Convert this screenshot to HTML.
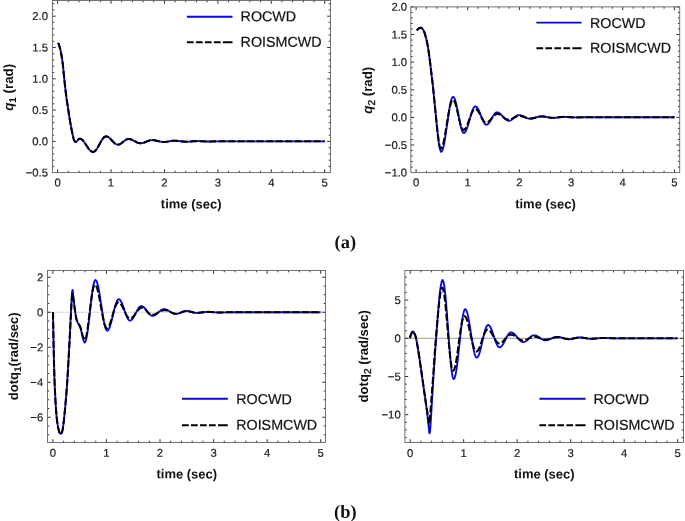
<!DOCTYPE html>
<html><head><meta charset="utf-8"><title>fig</title>
<style>html,body{margin:0;padding:0;background:#fff;}svg{display:block;will-change:transform;}text{font-family:"Liberation Sans",sans-serif;fill:#1e1e1e;text-rendering:geometricPrecision;}.tk{font-size:11.3px;fill:#1c1c1c;stroke:#1c1c1c;stroke-width:0.2px;}.lg{font-size:14.3px;fill:#111;stroke:#111;stroke-width:0.2px;}.ax{font-size:13px;font-weight:bold;fill:#111;}.ay{font-size:13.3px;}.cap{font-family:"Liberation Serif",serif;font-weight:bold;font-size:18.4px;fill:#111;}</style></head><body>
<svg width="685" height="521" viewBox="0 0 685 521">
<rect width="685" height="521" fill="#fff"/>
<path d="M58.2 42.9 L58.28 43.12 L58.39 43.41 L58.52 43.74 L58.66 44.12 L58.82 44.54 L58.98 45 L59.14 45.49 L59.3 46 L59.46 46.52 L59.62 47.03 L59.78 47.56 L59.95 48.14 L60.13 48.78 L60.31 49.5 L60.5 50.34 L60.7 51.3 L60.91 52.38 L61.14 53.56 L61.38 54.82 L61.63 56.18 L61.87 57.64 L62.12 59.19 L62.36 60.85 L62.6 62.6 L62.83 64.52 L63.06 66.62 L63.29 68.86 L63.51 71.18 L63.74 73.53 L63.96 75.85 L64.18 78.09 L64.4 80.2 L64.62 82.2 L64.83 84.14 L65.04 86.03 L65.24 87.89 L65.45 89.7 L65.66 91.49 L65.88 93.26 L66.1 95 L66.33 96.71 L66.56 98.37 L66.79 99.99 L67.03 101.59 L67.26 103.17 L67.51 104.76 L67.75 106.37 L68 108 L68.25 109.67 L68.51 111.36 L68.77 113.07 L69.03 114.79 L69.3 116.49 L69.56 118.17 L69.83 119.81 L70.1 121.4 L70.37 122.97 L70.66 124.54 L70.94 126.1 L71.23 127.62 L71.51 129.1 L71.79 130.49 L72.05 131.8 L72.3 133 L72.53 134.09 L72.74 135.1 L72.94 136.02 L73.14 136.87 L73.33 137.65 L73.51 138.36 L73.7 139.01 L73.9 139.6 L74.11 140.13 L74.34 140.57 L74.57 140.95 L74.8 141.26 L75.02 141.53 L75.21 141.75 L75.38 141.94 L75.5 142.1 L76.03 141.97 L76.55 141.6 L77.08 141.05 L77.6 140.4 L78.12 139.75 L78.65 139.2 L79.17 138.83 L79.7 138.7 L80.21 138.75 L80.72 138.89 L81.23 139.13 L81.75 139.46 L82.26 139.87 L82.77 140.36 L83.28 140.92 L83.79 141.55 L84.3 142.23 L84.82 142.96 L85.33 143.72 L85.84 144.5 L86.35 145.3 L86.86 146.1 L87.37 146.88 L87.88 147.64 L88.4 148.37 L88.91 149.05 L89.42 149.68 L89.93 150.24 L90.44 150.73 L90.95 151.14 L91.47 151.47 L91.98 151.71 L92.49 151.85 L93 151.9 L93.5 151.84 L94.01 151.67 L94.51 151.4 L95.02 151.01 L95.52 150.53 L96.02 149.95 L96.53 149.29 L97.03 148.55 L97.53 147.75 L98.04 146.9 L98.54 146 L99.05 145.08 L99.55 144.15 L100.05 143.22 L100.56 142.3 L101.06 141.4 L101.57 140.55 L102.07 139.75 L102.57 139.01 L103.08 138.35 L103.58 137.77 L104.08 137.29 L104.59 136.9 L105.09 136.63 L105.6 136.46 L106.1 136.4 L106.61 136.44 L107.12 136.55 L107.63 136.74 L108.13 137 L108.64 137.32 L109.15 137.7 L109.66 138.14 L110.17 138.61 L110.68 139.13 L111.19 139.67 L111.7 140.22 L112.2 140.78 L112.71 141.33 L113.22 141.87 L113.73 142.39 L114.24 142.86 L114.75 143.3 L115.26 143.68 L115.77 144 L116.27 144.26 L116.78 144.45 L117.29 144.56 L117.8 144.6 L118.31 144.57 L118.82 144.48 L119.33 144.32 L119.84 144.11 L120.35 143.85 L120.86 143.55 L121.37 143.2 L121.88 142.82 L122.39 142.42 L122.9 142.01 L123.4 141.59 L123.91 141.18 L124.42 140.78 L124.93 140.4 L125.44 140.05 L125.95 139.75 L126.46 139.49 L126.97 139.28 L127.48 139.12 L127.99 139.03 L128.5 139 L129.01 139.02 L129.52 139.07 L130.03 139.16 L130.53 139.28 L131.04 139.44 L131.55 139.62 L132.06 139.83 L132.57 140.06 L133.07 140.31 L133.58 140.58 L134.09 140.85 L134.6 141.12 L135.11 141.4 L135.62 141.67 L136.12 141.94 L136.63 142.19 L137.14 142.42 L137.65 142.63 L138.16 142.81 L138.67 142.97 L139.17 143.09 L139.68 143.18 L140.19 143.23 L140.7 143.25 L141.21 143.23 L141.73 143.19 L142.24 143.11 L142.75 143 L143.27 142.87 L143.78 142.71 L144.3 142.53 L144.81 142.33 L145.32 142.12 L145.84 141.9 L146.35 141.68 L146.86 141.45 L147.38 141.23 L147.89 141.02 L148.4 140.82 L148.92 140.64 L149.43 140.48 L149.95 140.35 L150.46 140.24 L150.97 140.16 L151.49 140.12 L152 140.1 L152.52 140.11 L153.03 140.14 L153.55 140.18 L154.07 140.24 L154.59 140.31 L155.1 140.4 L155.62 140.5 L156.14 140.61 L156.66 140.73 L157.17 140.86 L157.69 140.99 L158.21 141.11 L158.73 141.24 L159.24 141.37 L159.76 141.49 L160.28 141.6 L160.8 141.7 L161.31 141.79 L161.83 141.86 L162.35 141.92 L162.87 141.96 L163.38 141.99 L163.9 142 L164.41 141.99 L164.91 141.97 L165.41 141.93 L165.92 141.88 L166.43 141.81 L166.93 141.73 L167.44 141.65 L167.94 141.55 L168.44 141.45 L168.95 141.35 L169.46 141.25 L169.96 141.15 L170.47 141.05 L170.97 140.97 L171.47 140.89 L171.98 140.82 L172.49 140.77 L172.99 140.73 L173.5 140.71 L174 140.7 L174.5 140.7 L175 140.72 L175.5 140.74 L176 140.76 L176.5 140.8 L177 140.84 L177.5 140.88 L178 140.93 L178.5 140.99 L179 141.05 L179.5 141.11 L180 141.17 L180.5 141.23 L181 141.29 L181.5 141.35 L182 141.41 L182.5 141.47 L183 141.52 L183.5 141.56 L184 141.6 L184.5 141.64 L185 141.66 L185.5 141.68 L186 141.7 L186.5 141.7 L187 141.7 L187.5 141.69 L188 141.67 L188.5 141.65 L189 141.62 L189.5 141.59 L190 141.55 L190.5 141.51 L191 141.47 L191.5 141.42 L192 141.38 L192.5 141.33 L193 141.29 L193.5 141.25 L194 141.21 L194.5 141.18 L195 141.15 L195.5 141.13 L196 141.11 L196.5 141.1 L197 141.1 L197.5 141.1 L198 141.11 L198.5 141.12 L199 141.13 L199.5 141.15 L200 141.17 L200.5 141.19 L201 141.22 L201.5 141.24 L202 141.27 L202.5 141.3 L203 141.33 L203.5 141.36 L204 141.38 L204.5 141.41 L205 141.43 L205.5 141.45 L206 141.47 L206.5 141.48 L207 141.49 L207.5 141.5 L208 141.5 L208.5 141.5 L209 141.5 L209.5 141.49 L210 141.49 L210.5 141.48 L211 141.47 L211.5 141.46 L212 141.45 L212.5 141.44 L213 141.43 L213.5 141.41 L214 141.4 L214.5 141.39 L215 141.37 L215.5 141.36 L216 141.35 L216.5 141.34 L217 141.33 L217.5 141.32 L218 141.31 L218.5 141.31 L219 141.3 L219.5 141.3 L220 141.3 L220.5 141.3 L221 141.3 L221.5 141.3 L222 141.3 L222.5 141.3 L223.01 141.3 L223.51 141.3 L224.01 141.3 L224.51 141.3 L225.01 141.3 L225.51 141.3 L226.01 141.3 L226.51 141.3 L227.01 141.3 L227.51 141.3 L228.02 141.3 L228.52 141.3 L229.02 141.3 L229.52 141.3 L230.02 141.3 L230.52 141.3 L231.02 141.3 L231.52 141.3 L232.02 141.3 L232.52 141.3 L233.02 141.3 L233.53 141.3 L234.03 141.3 L234.53 141.3 L235.03 141.3 L235.53 141.3 L236.03 141.3 L236.53 141.3 L237.03 141.3 L237.53 141.3 L238.03 141.3 L238.54 141.3 L239.04 141.3 L239.54 141.3 L240.04 141.3 L240.54 141.3 L241.04 141.3 L241.54 141.3 L242.04 141.3 L242.54 141.3 L243.04 141.3 L243.54 141.3 L244.05 141.3 L244.55 141.3 L245.05 141.3 L245.55 141.3 L246.05 141.3 L246.55 141.3 L247.05 141.3 L247.55 141.3 L248.05 141.3 L248.55 141.3 L249.06 141.3 L249.56 141.3 L250.06 141.3 L250.56 141.3 L251.06 141.3 L251.56 141.3 L252.06 141.3 L252.56 141.3 L253.06 141.3 L253.56 141.3 L254.07 141.3 L254.57 141.3 L255.07 141.3 L255.57 141.3 L256.07 141.3 L256.57 141.3 L257.07 141.3 L257.57 141.3 L258.07 141.3 L258.57 141.3 L259.07 141.3 L259.58 141.3 L260.08 141.3 L260.58 141.3 L261.08 141.3 L261.58 141.3 L262.08 141.3 L262.58 141.3 L263.08 141.3 L263.58 141.3 L264.08 141.3 L264.59 141.3 L265.09 141.3 L265.59 141.3 L266.09 141.3 L266.59 141.3 L267.09 141.3 L267.59 141.3 L268.09 141.3 L268.59 141.3 L269.09 141.3 L269.59 141.3 L270.1 141.3 L270.6 141.3 L271.1 141.3 L271.6 141.3 L272.1 141.3 L272.6 141.3 L273.1 141.3 L273.6 141.3 L274.1 141.3 L274.6 141.3 L275.11 141.3 L275.61 141.3 L276.11 141.3 L276.61 141.3 L277.11 141.3 L277.61 141.3 L278.11 141.3 L278.61 141.3 L279.11 141.3 L279.61 141.3 L280.11 141.3 L280.62 141.3 L281.12 141.3 L281.62 141.3 L282.12 141.3 L282.62 141.3 L283.12 141.3 L283.62 141.3 L284.12 141.3 L284.62 141.3 L285.12 141.3 L285.63 141.3 L286.13 141.3 L286.63 141.3 L287.13 141.3 L287.63 141.3 L288.13 141.3 L288.63 141.3 L289.13 141.3 L289.63 141.3 L290.13 141.3 L290.63 141.3 L291.14 141.3 L291.64 141.3 L292.14 141.3 L292.64 141.3 L293.14 141.3 L293.64 141.3 L294.14 141.3 L294.64 141.3 L295.14 141.3 L295.64 141.3 L296.15 141.3 L296.65 141.3 L297.15 141.3 L297.65 141.3 L298.15 141.3 L298.65 141.3 L299.15 141.3 L299.65 141.3 L300.15 141.3 L300.65 141.3 L301.16 141.3 L301.66 141.3 L302.16 141.3 L302.66 141.3 L303.16 141.3 L303.66 141.3 L304.16 141.3 L304.66 141.3 L305.16 141.3 L305.66 141.3 L306.16 141.3 L306.67 141.3 L307.17 141.3 L307.67 141.3 L308.17 141.3 L308.67 141.3 L309.17 141.3 L309.67 141.3 L310.17 141.3 L310.67 141.3 L311.17 141.3 L311.68 141.3 L312.18 141.3 L312.68 141.3 L313.18 141.3 L313.68 141.3 L314.18 141.3 L314.68 141.3 L315.18 141.3 L315.68 141.3 L316.18 141.3 L316.68 141.3 L317.19 141.3 L317.69 141.3 L318.19 141.3 L318.69 141.3 L319.19 141.3 L319.69 141.3 L320.19 141.3 L320.69 141.3 L321.19 141.3 L321.69 141.3 L322.2 141.3 L322.7 141.3 L323.2 141.3 L323.7 141.3 L324.2 141.3 L324.7 141.3" fill="none" stroke="#0808de" stroke-width="1.85" stroke-linejoin="round" stroke-linecap="butt"/>
<path d="M58.2 42.9 L58.28 43.12 L58.39 43.41 L58.52 43.74 L58.66 44.12 L58.82 44.54 L58.98 45 L59.14 45.49 L59.3 46 L59.46 46.52 L59.62 47.03 L59.78 47.56 L59.95 48.14 L60.13 48.78 L60.31 49.5 L60.5 50.34 L60.7 51.3 L60.91 52.38 L61.14 53.56 L61.38 54.82 L61.63 56.18 L61.87 57.64 L62.12 59.19 L62.36 60.85 L62.6 62.6 L62.83 64.52 L63.06 66.62 L63.29 68.86 L63.51 71.18 L63.74 73.53 L63.96 75.85 L64.18 78.09 L64.4 80.2 L64.62 82.2 L64.83 84.14 L65.04 86.03 L65.24 87.89 L65.45 89.7 L65.66 91.49 L65.88 93.26 L66.1 95 L66.33 96.71 L66.56 98.37 L66.79 99.99 L67.03 101.59 L67.26 103.17 L67.51 104.76 L67.75 106.37 L68 108 L68.25 109.67 L68.51 111.36 L68.77 113.07 L69.03 114.79 L69.3 116.49 L69.56 118.17 L69.83 119.81 L70.1 121.4 L70.37 122.97 L70.66 124.54 L70.94 126.1 L71.23 127.62 L71.51 129.1 L71.79 130.49 L72.05 131.8 L72.3 133 L72.53 134.09 L72.74 135.1 L72.94 136.02 L73.14 136.87 L73.33 137.65 L73.51 138.36 L73.7 139.01 L73.9 139.6 L74.11 140.13 L74.34 140.57 L74.57 140.95 L74.8 141.26 L75.02 141.53 L75.21 141.75 L75.38 141.94 L75.5 142.1 L76.03 141.97 L76.55 141.6 L77.08 141.05 L77.6 140.4 L78.12 139.75 L78.65 139.2 L79.17 138.83 L79.7 138.7 L80.21 138.75 L80.72 138.89 L81.23 139.13 L81.75 139.46 L82.26 139.87 L82.77 140.36 L83.28 140.92 L83.79 141.55 L84.3 142.23 L84.82 142.96 L85.33 143.72 L85.84 144.5 L86.35 145.3 L86.86 146.1 L87.37 146.88 L87.88 147.64 L88.4 148.37 L88.91 149.05 L89.42 149.68 L89.93 150.24 L90.44 150.73 L90.95 151.14 L91.47 151.47 L91.98 151.71 L92.49 151.85 L93 151.9 L93.5 151.84 L94.01 151.67 L94.51 151.4 L95.02 151.01 L95.52 150.53 L96.02 149.95 L96.53 149.29 L97.03 148.55 L97.53 147.75 L98.04 146.9 L98.54 146 L99.05 145.08 L99.55 144.15 L100.05 143.22 L100.56 142.3 L101.06 141.4 L101.57 140.55 L102.07 139.75 L102.57 139.01 L103.08 138.35 L103.58 137.77 L104.08 137.29 L104.59 136.9 L105.09 136.63 L105.6 136.46 L106.1 136.4 L106.61 136.44 L107.12 136.55 L107.63 136.74 L108.13 137 L108.64 137.32 L109.15 137.7 L109.66 138.14 L110.17 138.61 L110.68 139.13 L111.19 139.67 L111.7 140.22 L112.2 140.78 L112.71 141.33 L113.22 141.87 L113.73 142.39 L114.24 142.86 L114.75 143.3 L115.26 143.68 L115.77 144 L116.27 144.26 L116.78 144.45 L117.29 144.56 L117.8 144.6 L118.31 144.57 L118.82 144.48 L119.33 144.32 L119.84 144.11 L120.35 143.85 L120.86 143.55 L121.37 143.2 L121.88 142.82 L122.39 142.42 L122.9 142.01 L123.4 141.59 L123.91 141.18 L124.42 140.78 L124.93 140.4 L125.44 140.05 L125.95 139.75 L126.46 139.49 L126.97 139.28 L127.48 139.12 L127.99 139.03 L128.5 139 L129.01 139.02 L129.52 139.07 L130.03 139.16 L130.53 139.28 L131.04 139.44 L131.55 139.62 L132.06 139.83 L132.57 140.06 L133.07 140.31 L133.58 140.58 L134.09 140.85 L134.6 141.12 L135.11 141.4 L135.62 141.67 L136.12 141.94 L136.63 142.19 L137.14 142.42 L137.65 142.63 L138.16 142.81 L138.67 142.97 L139.17 143.09 L139.68 143.18 L140.19 143.23 L140.7 143.25 L141.21 143.23 L141.73 143.19 L142.24 143.11 L142.75 143 L143.27 142.87 L143.78 142.71 L144.3 142.53 L144.81 142.33 L145.32 142.12 L145.84 141.9 L146.35 141.68 L146.86 141.45 L147.38 141.23 L147.89 141.02 L148.4 140.82 L148.92 140.64 L149.43 140.48 L149.95 140.35 L150.46 140.24 L150.97 140.16 L151.49 140.12 L152 140.1 L152.52 140.11 L153.03 140.14 L153.55 140.18 L154.07 140.24 L154.59 140.31 L155.1 140.4 L155.62 140.5 L156.14 140.61 L156.66 140.73 L157.17 140.86 L157.69 140.99 L158.21 141.11 L158.73 141.24 L159.24 141.37 L159.76 141.49 L160.28 141.6 L160.8 141.7 L161.31 141.79 L161.83 141.86 L162.35 141.92 L162.87 141.96 L163.38 141.99 L163.9 142 L164.41 141.99 L164.91 141.97 L165.41 141.93 L165.92 141.88 L166.43 141.81 L166.93 141.73 L167.44 141.65 L167.94 141.55 L168.44 141.45 L168.95 141.35 L169.46 141.25 L169.96 141.15 L170.47 141.05 L170.97 140.97 L171.47 140.89 L171.98 140.82 L172.49 140.77 L172.99 140.73 L173.5 140.71 L174 140.7 L174.5 140.7 L175 140.72 L175.5 140.74 L176 140.76 L176.5 140.8 L177 140.84 L177.5 140.88 L178 140.93 L178.5 140.99 L179 141.05 L179.5 141.11 L180 141.17 L180.5 141.23 L181 141.29 L181.5 141.35 L182 141.41 L182.5 141.47 L183 141.52 L183.5 141.56 L184 141.6 L184.5 141.64 L185 141.66 L185.5 141.68 L186 141.7 L186.5 141.7 L187 141.7 L187.5 141.69 L188 141.67 L188.5 141.65 L189 141.62 L189.5 141.59 L190 141.55 L190.5 141.51 L191 141.47 L191.5 141.42 L192 141.38 L192.5 141.33 L193 141.29 L193.5 141.25 L194 141.21 L194.5 141.18 L195 141.15 L195.5 141.13 L196 141.11 L196.5 141.1 L197 141.1 L197.5 141.1 L198 141.11 L198.5 141.12 L199 141.13 L199.5 141.15 L200 141.17 L200.5 141.19 L201 141.22 L201.5 141.24 L202 141.27 L202.5 141.3 L203 141.33 L203.5 141.36 L204 141.38 L204.5 141.41 L205 141.43 L205.5 141.45 L206 141.47 L206.5 141.48 L207 141.49 L207.5 141.5 L208 141.5 L208.5 141.5 L209 141.5 L209.5 141.49 L210 141.49 L210.5 141.48 L211 141.47 L211.5 141.46 L212 141.45 L212.5 141.44 L213 141.43 L213.5 141.41 L214 141.4 L214.5 141.39 L215 141.37 L215.5 141.36 L216 141.35 L216.5 141.34 L217 141.33 L217.5 141.32 L218 141.31 L218.5 141.31 L219 141.3 L219.5 141.3 L220 141.3 L220.5 141.3 L221 141.3 L221.5 141.3 L222 141.3 L222.5 141.3 L223.01 141.3 L223.51 141.3 L224.01 141.3 L224.51 141.3 L225.01 141.3 L225.51 141.3 L226.01 141.3 L226.51 141.3 L227.01 141.3 L227.51 141.3 L228.02 141.3 L228.52 141.3 L229.02 141.3 L229.52 141.3 L230.02 141.3 L230.52 141.3 L231.02 141.3 L231.52 141.3 L232.02 141.3 L232.52 141.3 L233.02 141.3 L233.53 141.3 L234.03 141.3 L234.53 141.3 L235.03 141.3 L235.53 141.3 L236.03 141.3 L236.53 141.3 L237.03 141.3 L237.53 141.3 L238.03 141.3 L238.54 141.3 L239.04 141.3 L239.54 141.3 L240.04 141.3 L240.54 141.3 L241.04 141.3 L241.54 141.3 L242.04 141.3 L242.54 141.3 L243.04 141.3 L243.54 141.3 L244.05 141.3 L244.55 141.3 L245.05 141.3 L245.55 141.3 L246.05 141.3 L246.55 141.3 L247.05 141.3 L247.55 141.3 L248.05 141.3 L248.55 141.3 L249.06 141.3 L249.56 141.3 L250.06 141.3 L250.56 141.3 L251.06 141.3 L251.56 141.3 L252.06 141.3 L252.56 141.3 L253.06 141.3 L253.56 141.3 L254.07 141.3 L254.57 141.3 L255.07 141.3 L255.57 141.3 L256.07 141.3 L256.57 141.3 L257.07 141.3 L257.57 141.3 L258.07 141.3 L258.57 141.3 L259.07 141.3 L259.58 141.3 L260.08 141.3 L260.58 141.3 L261.08 141.3 L261.58 141.3 L262.08 141.3 L262.58 141.3 L263.08 141.3 L263.58 141.3 L264.08 141.3 L264.59 141.3 L265.09 141.3 L265.59 141.3 L266.09 141.3 L266.59 141.3 L267.09 141.3 L267.59 141.3 L268.09 141.3 L268.59 141.3 L269.09 141.3 L269.59 141.3 L270.1 141.3 L270.6 141.3 L271.1 141.3 L271.6 141.3 L272.1 141.3 L272.6 141.3 L273.1 141.3 L273.6 141.3 L274.1 141.3 L274.6 141.3 L275.11 141.3 L275.61 141.3 L276.11 141.3 L276.61 141.3 L277.11 141.3 L277.61 141.3 L278.11 141.3 L278.61 141.3 L279.11 141.3 L279.61 141.3 L280.11 141.3 L280.62 141.3 L281.12 141.3 L281.62 141.3 L282.12 141.3 L282.62 141.3 L283.12 141.3 L283.62 141.3 L284.12 141.3 L284.62 141.3 L285.12 141.3 L285.63 141.3 L286.13 141.3 L286.63 141.3 L287.13 141.3 L287.63 141.3 L288.13 141.3 L288.63 141.3 L289.13 141.3 L289.63 141.3 L290.13 141.3 L290.63 141.3 L291.14 141.3 L291.64 141.3 L292.14 141.3 L292.64 141.3 L293.14 141.3 L293.64 141.3 L294.14 141.3 L294.64 141.3 L295.14 141.3 L295.64 141.3 L296.15 141.3 L296.65 141.3 L297.15 141.3 L297.65 141.3 L298.15 141.3 L298.65 141.3 L299.15 141.3 L299.65 141.3 L300.15 141.3 L300.65 141.3 L301.16 141.3 L301.66 141.3 L302.16 141.3 L302.66 141.3 L303.16 141.3 L303.66 141.3 L304.16 141.3 L304.66 141.3 L305.16 141.3 L305.66 141.3 L306.16 141.3 L306.67 141.3 L307.17 141.3 L307.67 141.3 L308.17 141.3 L308.67 141.3 L309.17 141.3 L309.67 141.3 L310.17 141.3 L310.67 141.3 L311.17 141.3 L311.68 141.3 L312.18 141.3 L312.68 141.3 L313.18 141.3 L313.68 141.3 L314.18 141.3 L314.68 141.3 L315.18 141.3 L315.68 141.3 L316.18 141.3 L316.68 141.3 L317.19 141.3 L317.69 141.3 L318.19 141.3 L318.69 141.3 L319.19 141.3 L319.69 141.3 L320.19 141.3 L320.69 141.3 L321.19 141.3 L321.69 141.3 L322.2 141.3 L322.7 141.3 L323.2 141.3 L323.7 141.3 L324.2 141.3 L324.7 141.3" fill="none" stroke="#000" stroke-width="2.1" stroke-dasharray="7 2.5" stroke-linejoin="round"/>
<path d="M57.6 172.6v-3.3M57.6 0.5v3.3M68.28 172.6v-1.8M68.28 0.5v1.8M78.97 172.6v-1.8M78.97 0.5v1.8M89.65 172.6v-1.8M89.65 0.5v1.8M100.34 172.6v-1.8M100.34 0.5v1.8M111.02 172.6v-3.3M111.02 0.5v3.3M121.7 172.6v-1.8M121.7 0.5v1.8M132.39 172.6v-1.8M132.39 0.5v1.8M143.07 172.6v-1.8M143.07 0.5v1.8M153.76 172.6v-1.8M153.76 0.5v1.8M164.44 172.6v-3.3M164.44 0.5v3.3M175.12 172.6v-1.8M175.12 0.5v1.8M185.81 172.6v-1.8M185.81 0.5v1.8M196.49 172.6v-1.8M196.49 0.5v1.8M207.18 172.6v-1.8M207.18 0.5v1.8M217.86 172.6v-3.3M217.86 0.5v3.3M228.54 172.6v-1.8M228.54 0.5v1.8M239.23 172.6v-1.8M239.23 0.5v1.8M249.91 172.6v-1.8M249.91 0.5v1.8M260.6 172.6v-1.8M260.6 0.5v1.8M271.28 172.6v-3.3M271.28 0.5v3.3M281.96 172.6v-1.8M281.96 0.5v1.8M292.65 172.6v-1.8M292.65 0.5v1.8M303.33 172.6v-1.8M303.33 0.5v1.8M314.02 172.6v-1.8M314.02 0.5v1.8M324.7 172.6v-3.3M324.7 0.5v3.3M52.4 166.44h1.8M330.5 166.44h-1.8M52.4 160.18h1.8M330.5 160.18h-1.8M52.4 153.92h1.8M330.5 153.92h-1.8M52.4 147.66h1.8M330.5 147.66h-1.8M52.4 141.4h3.3M330.5 141.4h-3.3M52.4 135.14h1.8M330.5 135.14h-1.8M52.4 128.88h1.8M330.5 128.88h-1.8M52.4 122.62h1.8M330.5 122.62h-1.8M52.4 116.36h1.8M330.5 116.36h-1.8M52.4 110.1h3.3M330.5 110.1h-3.3M52.4 103.84h1.8M330.5 103.84h-1.8M52.4 97.58h1.8M330.5 97.58h-1.8M52.4 91.32h1.8M330.5 91.32h-1.8M52.4 85.06h1.8M330.5 85.06h-1.8M52.4 78.8h3.3M330.5 78.8h-3.3M52.4 72.54h1.8M330.5 72.54h-1.8M52.4 66.28h1.8M330.5 66.28h-1.8M52.4 60.02h1.8M330.5 60.02h-1.8M52.4 53.76h1.8M330.5 53.76h-1.8M52.4 47.5h3.3M330.5 47.5h-3.3M52.4 41.24h1.8M330.5 41.24h-1.8M52.4 34.98h1.8M330.5 34.98h-1.8M52.4 28.72h1.8M330.5 28.72h-1.8M52.4 22.46h1.8M330.5 22.46h-1.8M52.4 16.2h3.3M330.5 16.2h-3.3M52.4 9.94h1.8M330.5 9.94h-1.8M52.4 3.68h1.8M330.5 3.68h-1.8" stroke="#0c0c0c" stroke-width="0.85" fill="none"/>
<rect x="52.4" y="0.5" width="278.1" height="172.1" fill="none" stroke="#636363" stroke-width="0.9"/>
<text x="57.6" y="186.4" transform="rotate(0.05 57.6 186.4)" text-anchor="middle" class="tk">0</text>
<text x="111.02" y="186.4" transform="rotate(0.05 111.02 186.4)" text-anchor="middle" class="tk">1</text>
<text x="164.44" y="186.4" transform="rotate(0.05 164.44 186.4)" text-anchor="middle" class="tk">2</text>
<text x="217.86" y="186.4" transform="rotate(0.05 217.86 186.4)" text-anchor="middle" class="tk">3</text>
<text x="271.28" y="186.4" transform="rotate(0.05 271.28 186.4)" text-anchor="middle" class="tk">4</text>
<text x="324.7" y="186.4" transform="rotate(0.05 324.7 186.4)" text-anchor="middle" class="tk">5</text>
<text x="48" y="176.6" transform="rotate(0.05 48 176.6)" text-anchor="end" class="tk">−0.5</text>
<text x="48" y="145.3" transform="rotate(0.05 48 145.3)" text-anchor="end" class="tk">0.0</text>
<text x="48" y="114" transform="rotate(0.05 48 114)" text-anchor="end" class="tk">0.5</text>
<text x="48" y="82.7" transform="rotate(0.05 48 82.7)" text-anchor="end" class="tk">1.0</text>
<text x="48" y="51.4" transform="rotate(0.05 48 51.4)" text-anchor="end" class="tk">1.5</text>
<text x="48" y="20.1" transform="rotate(0.05 48 20.1)" text-anchor="end" class="tk">2.0</text>
<line x1="186.9" y1="16.7" x2="232.5" y2="16.7" stroke="#0808de" stroke-width="1.9"/>
<line x1="186.9" y1="42.2" x2="232.5" y2="42.2" stroke="#000" stroke-width="2.05" stroke-dasharray="6.7 2.3 6.7 2.3 6.7 2.3 6.7 2.3 12 0"/>
<text x="240.6" y="21.3" transform="rotate(0.05 240.6 21.3)" class="lg">ROCWD</text>
<text x="240.6" y="46.8" transform="rotate(0.05 240.6 46.8)" class="lg">ROISMCWD</text>
<text x="191.2" y="208.4" transform="rotate(0.05 191.2 208.8)" text-anchor="middle" class="ax">time (sec)</text>
<text transform="translate(12.7 87.3) rotate(-90)" text-anchor="middle" class="ax ay"><tspan font-style="italic">q</tspan><tspan dy="3.4" font-size="10" font-weight="bold">1</tspan><tspan dy="-3.4"> (rad)</tspan></text>
<path d="M416.7 30.3 L416.88 30.14 L417.11 29.93 L417.39 29.67 L417.71 29.39 L418.04 29.1 L418.37 28.83 L418.7 28.59 L419 28.4 L419.29 28.24 L419.57 28.08 L419.86 27.93 L420.15 27.81 L420.44 27.72 L420.73 27.68 L421.01 27.7 L421.3 27.8 L421.59 27.97 L421.88 28.19 L422.18 28.47 L422.47 28.81 L422.76 29.19 L423.05 29.62 L423.33 30.09 L423.6 30.6 L423.86 31.15 L424.12 31.75 L424.37 32.39 L424.62 33.08 L424.86 33.81 L425.11 34.59 L425.35 35.42 L425.6 36.3 L425.85 37.23 L426.1 38.19 L426.35 39.21 L426.61 40.27 L426.86 41.39 L427.11 42.56 L427.35 43.8 L427.6 45.1 L427.84 46.48 L428.08 47.93 L428.32 49.44 L428.56 51.01 L428.8 52.63 L429.03 54.29 L429.27 55.98 L429.5 57.7 L429.73 59.48 L429.96 61.34 L430.2 63.27 L430.43 65.22 L430.65 67.17 L430.87 69.08 L431.09 70.94 L431.3 72.7 L431.5 74.33 L431.69 75.83 L431.87 77.26 L432.05 78.66 L432.23 80.09 L432.41 81.59 L432.6 83.21 L432.8 85 L433.01 86.98 L433.23 89.1 L433.45 91.33 L433.68 93.64 L433.91 96 L434.14 98.37 L434.37 100.71 L434.6 103 L434.83 105.27 L435.05 107.56 L435.28 109.86 L435.51 112.16 L435.74 114.43 L435.96 116.68 L436.18 118.87 L436.4 121 L436.61 123.09 L436.81 125.15 L437.01 127.18 L437.21 129.17 L437.41 131.1 L437.6 132.98 L437.8 134.78 L438 136.5 L438.2 138.16 L438.4 139.79 L438.6 141.37 L438.81 142.87 L439.01 144.28 L439.21 145.59 L439.4 146.77 L439.6 147.8 L439.8 148.68 L440.02 149.41 L440.24 150.01 L440.45 150.51 L440.65 150.91 L440.83 151.25 L440.98 151.54 L441.1 151.8 L441.6 151.57 L442.1 150.86 L442.6 149.71 L443.1 148.12 L443.6 146.13 L444.1 143.76 L444.6 141.06 L445.1 138.08 L445.6 134.85 L446.1 131.45 L446.6 127.93 L447.1 124.35 L447.6 120.77 L448.1 117.25 L448.6 113.85 L449.1 110.63 L449.6 107.64 L450.1 104.94 L450.6 102.57 L451.1 100.58 L451.6 98.99 L452.1 97.84 L452.6 97.13 L453.1 96.9 L453.61 97.1 L454.12 97.7 L454.63 98.69 L455.14 100.04 L455.65 101.72 L456.16 103.7 L456.67 105.92 L457.18 108.36 L457.69 110.93 L458.2 113.6 L458.7 116.3 L459.21 118.97 L459.72 121.54 L460.23 123.97 L460.74 126.2 L461.25 128.18 L461.76 129.86 L462.27 131.21 L462.78 132.2 L463.29 132.8 L463.8 133 L464.3 132.88 L464.81 132.51 L465.31 131.9 L465.82 131.06 L466.32 130.02 L466.83 128.78 L467.33 127.37 L467.83 125.82 L468.34 124.15 L468.84 122.41 L469.35 120.61 L469.85 118.79 L470.36 116.99 L470.86 115.25 L471.37 113.58 L471.87 112.03 L472.37 110.62 L472.88 109.38 L473.38 108.34 L473.89 107.5 L474.39 106.89 L474.9 106.52 L475.4 106.4 L475.9 106.49 L476.4 106.77 L476.9 107.23 L477.4 107.85 L477.9 108.63 L478.4 109.56 L478.9 110.6 L479.4 111.75 L479.9 112.97 L480.4 114.25 L480.9 115.55 L481.4 116.85 L481.9 118.13 L482.4 119.35 L482.9 120.5 L483.4 121.54 L483.9 122.47 L484.4 123.25 L484.9 123.87 L485.4 124.33 L485.9 124.61 L486.4 124.7 L486.9 124.63 L487.41 124.42 L487.91 124.09 L488.42 123.62 L488.92 123.04 L489.43 122.37 L489.93 121.6 L490.44 120.77 L490.94 119.88 L491.45 118.96 L491.95 118.04 L492.46 117.12 L492.96 116.23 L493.47 115.4 L493.97 114.63 L494.48 113.96 L494.98 113.38 L495.49 112.91 L495.99 112.58 L496.5 112.37 L497 112.3 L497.52 112.34 L498.03 112.46 L498.55 112.65 L499.07 112.92 L499.59 113.25 L500.1 113.65 L500.62 114.1 L501.14 114.59 L501.66 115.13 L502.17 115.69 L502.69 116.26 L503.21 116.84 L503.73 117.41 L504.24 117.97 L504.76 118.51 L505.28 119 L505.8 119.45 L506.31 119.85 L506.83 120.18 L507.35 120.45 L507.87 120.64 L508.38 120.76 L508.9 120.8 L509.4 120.76 L509.9 120.66 L510.4 120.49 L510.9 120.26 L511.4 119.97 L511.9 119.63 L512.4 119.24 L512.9 118.83 L513.4 118.4 L513.9 117.95 L514.4 117.5 L514.9 117.07 L515.4 116.66 L515.9 116.27 L516.4 115.93 L516.9 115.64 L517.4 115.41 L517.9 115.24 L518.4 115.14 L518.9 115.1 L519.41 115.12 L519.93 115.17 L520.44 115.26 L520.95 115.39 L521.47 115.54 L521.98 115.72 L522.5 115.93 L523.01 116.15 L523.52 116.39 L524.04 116.64 L524.55 116.9 L525.06 117.16 L525.58 117.41 L526.09 117.65 L526.6 117.87 L527.12 118.08 L527.63 118.26 L528.15 118.41 L528.66 118.54 L529.17 118.63 L529.69 118.68 L530.2 118.7 L530.71 118.69 L531.23 118.65 L531.74 118.59 L532.25 118.51 L532.77 118.41 L533.28 118.29 L533.8 118.15 L534.31 118 L534.82 117.84 L535.34 117.67 L535.85 117.5 L536.36 117.33 L536.88 117.16 L537.39 117 L537.9 116.85 L538.42 116.71 L538.93 116.59 L539.45 116.49 L539.96 116.41 L540.47 116.35 L540.99 116.31 L541.5 116.3 L542.01 116.31 L542.53 116.33 L543.04 116.37 L543.55 116.43 L544.07 116.5 L544.58 116.58 L545.1 116.67 L545.61 116.77 L546.12 116.87 L546.64 116.99 L547.15 117.1 L547.66 117.21 L548.18 117.33 L548.69 117.43 L549.2 117.53 L549.72 117.62 L550.23 117.7 L550.75 117.77 L551.26 117.83 L551.77 117.87 L552.29 117.89 L552.8 117.9 L553.31 117.89 L553.82 117.88 L554.33 117.85 L554.84 117.82 L555.35 117.78 L555.85 117.73 L556.36 117.67 L556.87 117.61 L557.38 117.54 L557.89 117.47 L558.4 117.4 L558.91 117.33 L559.42 117.26 L559.93 117.19 L560.44 117.13 L560.95 117.07 L561.45 117.02 L561.96 116.98 L562.47 116.95 L562.98 116.92 L563.49 116.91 L564 116.9 L564.5 116.9 L565 116.91 L565.5 116.92 L566 116.94 L566.5 116.96 L567 116.99 L567.5 117.01 L568 117.05 L568.5 117.08 L569 117.11 L569.5 117.15 L570 117.19 L570.5 117.22 L571 117.25 L571.5 117.29 L572 117.31 L572.5 117.34 L573 117.36 L573.5 117.38 L574 117.39 L574.5 117.4 L575 117.4 L575.5 117.4 L576 117.4 L576.5 117.4 L577 117.39 L577.5 117.39 L578 117.38 L578.5 117.37 L579 117.37 L579.5 117.36 L580 117.35 L580.5 117.34 L581 117.33 L581.5 117.32 L582 117.31 L582.5 117.3 L583 117.29 L583.5 117.28 L584 117.27 L584.5 117.26 L585 117.25 L585.5 117.24 L586 117.23 L586.5 117.23 L587 117.22 L587.5 117.21 L588 117.21 L588.5 117.2 L589 117.2 L589.5 117.2 L590 117.2 L590.5 117.2 L591 117.2 L591.5 117.2 L592 117.2 L592.5 117.2 L593 117.2 L593.5 117.2 L594 117.2 L594.5 117.2 L595 117.2 L595.5 117.2 L596 117.2 L596.5 117.2 L597 117.2 L597.5 117.2 L598 117.2 L598.5 117.2 L599 117.2 L599.5 117.2 L600 117.2 L600.5 117.2 L601 117.2 L601.5 117.2 L602 117.2 L602.5 117.2 L603 117.2 L603.5 117.2 L604 117.2 L604.5 117.2 L605 117.2 L605.5 117.2 L606 117.2 L606.5 117.2 L607 117.2 L607.5 117.2 L608 117.2 L608.5 117.2 L609 117.2 L609.5 117.2 L610 117.2 L610.5 117.2 L611 117.2 L611.5 117.2 L612 117.2 L612.5 117.2 L613 117.2 L613.5 117.2 L614 117.2 L614.5 117.2 L615 117.2 L615.5 117.2 L616 117.2 L616.5 117.2 L617 117.2 L617.5 117.2 L618 117.2 L618.5 117.2 L619 117.2 L619.5 117.2 L620 117.2 L620.5 117.2 L621 117.2 L621.5 117.2 L622 117.2 L622.5 117.2 L623 117.2 L623.5 117.2 L624 117.2 L624.5 117.2 L625 117.2 L625.5 117.2 L626 117.2 L626.5 117.2 L627 117.2 L627.5 117.2 L628 117.2 L628.5 117.2 L629 117.2 L629.5 117.2 L630 117.2 L630.5 117.2 L631 117.2 L631.5 117.2 L632 117.2 L632.5 117.2 L633 117.2 L633.5 117.2 L634 117.2 L634.5 117.2 L635 117.2 L635.5 117.2 L636 117.2 L636.5 117.2 L637 117.2 L637.5 117.2 L638 117.2 L638.5 117.2 L639 117.2 L639.5 117.2 L640 117.2 L640.5 117.2 L641 117.2 L641.5 117.2 L642 117.2 L642.5 117.2 L643 117.2 L643.5 117.2 L644 117.2 L644.5 117.2 L645 117.2 L645.5 117.2 L646 117.2 L646.5 117.2 L647 117.2 L647.5 117.2 L648 117.2 L648.5 117.2 L649 117.2 L649.5 117.2 L650 117.2 L650.5 117.2 L651 117.2 L651.5 117.2 L652 117.2 L652.5 117.2 L653 117.2 L653.5 117.2 L654 117.2 L654.5 117.2 L655 117.2 L655.5 117.2 L656 117.2 L656.5 117.2 L657 117.2 L657.5 117.2 L658 117.2 L658.5 117.2 L659 117.2 L659.5 117.2 L660 117.2 L660.5 117.2 L661 117.2 L661.5 117.2 L662 117.2 L662.5 117.2 L663 117.2 L663.5 117.2 L664 117.2 L664.5 117.2 L665 117.2 L665.5 117.2 L666 117.2 L666.5 117.2 L667 117.2 L667.5 117.2 L668 117.2 L668.5 117.2 L669 117.2 L669.5 117.2 L670 117.2 L670.5 117.2 L671 117.2 L671.5 117.2 L672 117.2 L672.5 117.2 L673 117.2 L673.5 117.2 L674 117.2 L674.5 117.2" fill="none" stroke="#0808de" stroke-width="1.85" stroke-linejoin="round" stroke-linecap="butt"/>
<path d="M416.7 30.3 L416.88 30.14 L417.11 29.93 L417.39 29.67 L417.71 29.39 L418.04 29.1 L418.37 28.83 L418.7 28.59 L419 28.4 L419.29 28.24 L419.57 28.08 L419.86 27.93 L420.15 27.81 L420.44 27.72 L420.73 27.68 L421.01 27.7 L421.3 27.8 L421.59 27.97 L421.88 28.19 L422.18 28.47 L422.47 28.81 L422.76 29.19 L423.05 29.62 L423.33 30.09 L423.6 30.6 L423.86 31.15 L424.12 31.75 L424.37 32.39 L424.62 33.08 L424.86 33.81 L425.11 34.59 L425.35 35.42 L425.6 36.3 L425.85 37.23 L426.1 38.19 L426.35 39.21 L426.61 40.27 L426.86 41.39 L427.11 42.56 L427.35 43.8 L427.6 45.1 L427.84 46.48 L428.08 47.93 L428.32 49.44 L428.56 51.01 L428.8 52.63 L429.03 54.29 L429.27 55.98 L429.5 57.7 L429.73 59.48 L429.96 61.34 L430.2 63.27 L430.43 65.22 L430.65 67.17 L430.87 69.08 L431.09 70.94 L431.3 72.7 L431.5 74.33 L431.69 75.83 L431.87 77.26 L432.05 78.66 L432.23 80.09 L432.41 81.59 L432.6 83.21 L432.8 85 L433.01 86.98 L433.23 89.1 L433.45 91.33 L433.68 93.64 L433.91 96 L434.14 98.37 L434.37 100.71 L434.6 103 L434.83 105.28 L435.06 107.59 L435.29 109.93 L435.52 112.25 L435.75 114.54 L435.97 116.78 L436.19 118.94 L436.4 121 L436.6 122.97 L436.8 124.88 L436.98 126.72 L437.17 128.5 L437.35 130.22 L437.53 131.88 L437.71 133.47 L437.9 135 L438.09 136.49 L438.28 137.94 L438.47 139.34 L438.66 140.67 L438.84 141.92 L439.03 143.06 L439.22 144.1 L439.4 145 L439.59 145.76 L439.79 146.37 L439.99 146.87 L440.19 147.28 L440.38 147.6 L440.55 147.86 L440.69 148.09 L440.8 148.3 L441.3 148.09 L441.81 147.47 L442.31 146.45 L442.82 145.04 L443.32 143.28 L443.82 141.18 L444.33 138.79 L444.83 136.15 L445.34 133.3 L445.84 130.29 L446.35 127.17 L446.85 124 L447.35 120.83 L447.86 117.71 L448.36 114.7 L448.87 111.85 L449.37 109.21 L449.88 106.82 L450.38 104.72 L450.88 102.96 L451.39 101.55 L451.89 100.53 L452.4 99.91 L452.9 99.7 L453.4 99.87 L453.91 100.37 L454.41 101.2 L454.92 102.32 L455.42 103.73 L455.93 105.39 L456.43 107.25 L456.94 109.28 L457.44 111.44 L457.95 113.67 L458.45 115.93 L458.96 118.16 L459.46 120.32 L459.97 122.35 L460.47 124.21 L460.98 125.87 L461.48 127.28 L461.99 128.4 L462.49 129.23 L463 129.73 L463.5 129.9 L464.01 129.8 L464.52 129.51 L465.03 129.03 L465.53 128.37 L466.04 127.54 L466.55 126.57 L467.06 125.46 L467.57 124.23 L468.08 122.92 L468.59 121.54 L469.1 120.12 L469.6 118.68 L470.11 117.26 L470.62 115.88 L471.13 114.57 L471.64 113.34 L472.15 112.23 L472.66 111.26 L473.17 110.43 L473.67 109.77 L474.18 109.29 L474.69 109 L475.2 108.9 L475.7 108.97 L476.2 109.18 L476.7 109.51 L477.2 109.98 L477.7 110.56 L478.2 111.25 L478.7 112.02 L479.2 112.88 L479.7 113.78 L480.2 114.73 L480.7 115.7 L481.2 116.67 L481.7 117.62 L482.2 118.52 L482.7 119.38 L483.2 120.15 L483.7 120.84 L484.2 121.42 L484.7 121.89 L485.2 122.22 L485.7 122.43 L486.2 122.5 L486.71 122.46 L487.23 122.33 L487.74 122.11 L488.25 121.82 L488.77 121.45 L489.28 121.02 L489.8 120.52 L490.31 119.99 L490.82 119.41 L491.34 118.81 L491.85 118.2 L492.36 117.59 L492.88 116.99 L493.39 116.41 L493.9 115.88 L494.42 115.38 L494.93 114.95 L495.45 114.58 L495.96 114.29 L496.47 114.07 L496.99 113.94 L497.5 113.9 L498.01 113.93 L498.52 114.03 L499.03 114.18 L499.54 114.4 L500.05 114.66 L500.56 114.97 L501.07 115.33 L501.58 115.71 L502.09 116.12 L502.6 116.54 L503.1 116.96 L503.61 117.38 L504.12 117.79 L504.63 118.17 L505.14 118.53 L505.65 118.84 L506.16 119.1 L506.67 119.32 L507.18 119.47 L507.69 119.57 L508.2 119.6 L508.71 119.58 L509.23 119.53 L509.74 119.44 L510.25 119.31 L510.77 119.16 L511.28 118.98 L511.8 118.77 L512.31 118.55 L512.82 118.31 L513.34 118.06 L513.85 117.8 L514.36 117.54 L514.88 117.29 L515.39 117.05 L515.9 116.83 L516.42 116.62 L516.93 116.44 L517.45 116.29 L517.96 116.16 L518.47 116.07 L518.99 116.02 L519.5 116 L520.01 116.01 L520.52 116.06 L521.03 116.12 L521.54 116.22 L522.05 116.33 L522.56 116.47 L523.07 116.62 L523.58 116.79 L524.09 116.97 L524.6 117.16 L525.1 117.34 L525.61 117.53 L526.12 117.71 L526.63 117.88 L527.14 118.03 L527.65 118.17 L528.16 118.28 L528.67 118.38 L529.18 118.44 L529.69 118.49 L530.2 118.5 L530.71 118.49 L531.23 118.46 L531.74 118.41 L532.25 118.34 L532.77 118.26 L533.28 118.15 L533.8 118.04 L534.31 117.92 L534.82 117.78 L535.34 117.64 L535.85 117.5 L536.36 117.36 L536.88 117.22 L537.39 117.08 L537.9 116.96 L538.42 116.85 L538.93 116.74 L539.45 116.66 L539.96 116.59 L540.47 116.54 L540.99 116.51 L541.5 116.5 L542.01 116.51 L542.53 116.53 L543.04 116.56 L543.55 116.6 L544.07 116.66 L544.58 116.72 L545.1 116.8 L545.61 116.88 L546.12 116.97 L546.64 117.06 L547.15 117.15 L547.66 117.24 L548.18 117.33 L548.69 117.42 L549.2 117.5 L549.72 117.58 L550.23 117.64 L550.75 117.7 L551.26 117.74 L551.77 117.77 L552.29 117.79 L552.8 117.8 L553.31 117.8 L553.82 117.78 L554.33 117.76 L554.84 117.73 L555.35 117.69 L555.85 117.64 L556.36 117.59 L556.87 117.54 L557.38 117.48 L557.89 117.41 L558.4 117.35 L558.91 117.29 L559.42 117.22 L559.93 117.16 L560.44 117.11 L560.95 117.06 L561.45 117.01 L561.96 116.97 L562.47 116.94 L562.98 116.92 L563.49 116.9 L564 116.9 L564.5 116.9 L565 116.91 L565.5 116.92 L566 116.94 L566.5 116.96 L567 116.99 L567.5 117.01 L568 117.05 L568.5 117.08 L569 117.11 L569.5 117.15 L570 117.19 L570.5 117.22 L571 117.25 L571.5 117.29 L572 117.31 L572.5 117.34 L573 117.36 L573.5 117.38 L574 117.39 L574.5 117.4 L575 117.4 L575.5 117.4 L576 117.4 L576.5 117.4 L577 117.39 L577.5 117.39 L578 117.38 L578.5 117.37 L579 117.37 L579.5 117.36 L580 117.35 L580.5 117.34 L581 117.33 L581.5 117.32 L582 117.31 L582.5 117.3 L583 117.29 L583.5 117.28 L584 117.27 L584.5 117.26 L585 117.25 L585.5 117.24 L586 117.23 L586.5 117.23 L587 117.22 L587.5 117.21 L588 117.21 L588.5 117.2 L589 117.2 L589.5 117.2 L590 117.2 L590.5 117.2 L591 117.2 L591.5 117.2 L592 117.2 L592.5 117.2 L593 117.2 L593.5 117.2 L594 117.2 L594.5 117.2 L595 117.2 L595.5 117.2 L596 117.2 L596.5 117.2 L597 117.2 L597.5 117.2 L598 117.2 L598.5 117.2 L599 117.2 L599.5 117.2 L600 117.2 L600.5 117.2 L601 117.2 L601.5 117.2 L602 117.2 L602.5 117.2 L603 117.2 L603.5 117.2 L604 117.2 L604.5 117.2 L605 117.2 L605.5 117.2 L606 117.2 L606.5 117.2 L607 117.2 L607.5 117.2 L608 117.2 L608.5 117.2 L609 117.2 L609.5 117.2 L610 117.2 L610.5 117.2 L611 117.2 L611.5 117.2 L612 117.2 L612.5 117.2 L613 117.2 L613.5 117.2 L614 117.2 L614.5 117.2 L615 117.2 L615.5 117.2 L616 117.2 L616.5 117.2 L617 117.2 L617.5 117.2 L618 117.2 L618.5 117.2 L619 117.2 L619.5 117.2 L620 117.2 L620.5 117.2 L621 117.2 L621.5 117.2 L622 117.2 L622.5 117.2 L623 117.2 L623.5 117.2 L624 117.2 L624.5 117.2 L625 117.2 L625.5 117.2 L626 117.2 L626.5 117.2 L627 117.2 L627.5 117.2 L628 117.2 L628.5 117.2 L629 117.2 L629.5 117.2 L630 117.2 L630.5 117.2 L631 117.2 L631.5 117.2 L632 117.2 L632.5 117.2 L633 117.2 L633.5 117.2 L634 117.2 L634.5 117.2 L635 117.2 L635.5 117.2 L636 117.2 L636.5 117.2 L637 117.2 L637.5 117.2 L638 117.2 L638.5 117.2 L639 117.2 L639.5 117.2 L640 117.2 L640.5 117.2 L641 117.2 L641.5 117.2 L642 117.2 L642.5 117.2 L643 117.2 L643.5 117.2 L644 117.2 L644.5 117.2 L645 117.2 L645.5 117.2 L646 117.2 L646.5 117.2 L647 117.2 L647.5 117.2 L648 117.2 L648.5 117.2 L649 117.2 L649.5 117.2 L650 117.2 L650.5 117.2 L651 117.2 L651.5 117.2 L652 117.2 L652.5 117.2 L653 117.2 L653.5 117.2 L654 117.2 L654.5 117.2 L655 117.2 L655.5 117.2 L656 117.2 L656.5 117.2 L657 117.2 L657.5 117.2 L658 117.2 L658.5 117.2 L659 117.2 L659.5 117.2 L660 117.2 L660.5 117.2 L661 117.2 L661.5 117.2 L662 117.2 L662.5 117.2 L663 117.2 L663.5 117.2 L664 117.2 L664.5 117.2 L665 117.2 L665.5 117.2 L666 117.2 L666.5 117.2 L667 117.2 L667.5 117.2 L668 117.2 L668.5 117.2 L669 117.2 L669.5 117.2 L670 117.2 L670.5 117.2 L671 117.2 L671.5 117.2 L672 117.2 L672.5 117.2 L673 117.2 L673.5 117.2 L674 117.2 L674.5 117.2" fill="none" stroke="#000" stroke-width="2.1" stroke-dasharray="7 2.5" stroke-linejoin="round"/>
<path d="M416.1 172.6v-3.3M416.1 6.9v3.3M426.43 172.6v-1.8M426.43 6.9v1.8M436.76 172.6v-1.8M436.76 6.9v1.8M447.1 172.6v-1.8M447.1 6.9v1.8M457.43 172.6v-1.8M457.43 6.9v1.8M467.76 172.6v-3.3M467.76 6.9v3.3M478.09 172.6v-1.8M478.09 6.9v1.8M488.42 172.6v-1.8M488.42 6.9v1.8M498.76 172.6v-1.8M498.76 6.9v1.8M509.09 172.6v-1.8M509.09 6.9v1.8M519.42 172.6v-3.3M519.42 6.9v3.3M529.75 172.6v-1.8M529.75 6.9v1.8M540.08 172.6v-1.8M540.08 6.9v1.8M550.42 172.6v-1.8M550.42 6.9v1.8M560.75 172.6v-1.8M560.75 6.9v1.8M571.08 172.6v-3.3M571.08 6.9v3.3M581.41 172.6v-1.8M581.41 6.9v1.8M591.74 172.6v-1.8M591.74 6.9v1.8M602.08 172.6v-1.8M602.08 6.9v1.8M612.41 172.6v-1.8M612.41 6.9v1.8M622.74 172.6v-3.3M622.74 6.9v3.3M633.07 172.6v-1.8M633.07 6.9v1.8M643.4 172.6v-1.8M643.4 6.9v1.8M653.74 172.6v-1.8M653.74 6.9v1.8M664.07 172.6v-1.8M664.07 6.9v1.8M674.4 172.6v-3.3M674.4 6.9v3.3M410.85 167.12h1.8M679.7 167.12h-1.8M410.85 161.6h1.8M679.7 161.6h-1.8M410.85 156.08h1.8M679.7 156.08h-1.8M410.85 150.55h1.8M679.7 150.55h-1.8M410.85 145.03h3.3M679.7 145.03h-3.3M410.85 139.5h1.8M679.7 139.5h-1.8M410.85 133.98h1.8M679.7 133.98h-1.8M410.85 128.45h1.8M679.7 128.45h-1.8M410.85 122.93h1.8M679.7 122.93h-1.8M410.85 117.4h3.3M679.7 117.4h-3.3M410.85 111.88h1.8M679.7 111.88h-1.8M410.85 106.35h1.8M679.7 106.35h-1.8M410.85 100.83h1.8M679.7 100.83h-1.8M410.85 95.3h1.8M679.7 95.3h-1.8M410.85 89.78h3.3M679.7 89.78h-3.3M410.85 84.25h1.8M679.7 84.25h-1.8M410.85 78.72h1.8M679.7 78.72h-1.8M410.85 73.2h1.8M679.7 73.2h-1.8M410.85 67.68h1.8M679.7 67.68h-1.8M410.85 62.15h3.3M679.7 62.15h-3.3M410.85 56.62h1.8M679.7 56.62h-1.8M410.85 51.1h1.8M679.7 51.1h-1.8M410.85 45.58h1.8M679.7 45.58h-1.8M410.85 40.05h1.8M679.7 40.05h-1.8M410.85 34.53h3.3M679.7 34.53h-3.3M410.85 29h1.8M679.7 29h-1.8M410.85 23.47h1.8M679.7 23.47h-1.8M410.85 17.95h1.8M679.7 17.95h-1.8M410.85 12.42h1.8M679.7 12.42h-1.8M410.85 6.9h3.3M679.7 6.9h-3.3" stroke="#0c0c0c" stroke-width="0.85" fill="none"/>
<rect x="410.85" y="6.9" width="268.85" height="165.7" fill="none" stroke="#636363" stroke-width="0.9"/>
<text x="416.1" y="186.3" transform="rotate(0.05 416.1 186.3)" text-anchor="middle" class="tk">0</text>
<text x="467.76" y="186.3" transform="rotate(0.05 467.76 186.3)" text-anchor="middle" class="tk">1</text>
<text x="519.42" y="186.3" transform="rotate(0.05 519.42 186.3)" text-anchor="middle" class="tk">2</text>
<text x="571.08" y="186.3" transform="rotate(0.05 571.08 186.3)" text-anchor="middle" class="tk">3</text>
<text x="622.74" y="186.3" transform="rotate(0.05 622.74 186.3)" text-anchor="middle" class="tk">4</text>
<text x="674.4" y="186.3" transform="rotate(0.05 674.4 186.3)" text-anchor="middle" class="tk">5</text>
<text x="407.15" y="176.55" transform="rotate(0.05 407.15 176.55)" text-anchor="end" class="tk">−1.0</text>
<text x="407.15" y="148.93" transform="rotate(0.05 407.15 148.93)" text-anchor="end" class="tk">−0.5</text>
<text x="407.15" y="121.3" transform="rotate(0.05 407.15 121.3)" text-anchor="end" class="tk">0.0</text>
<text x="407.15" y="93.68" transform="rotate(0.05 407.15 93.68)" text-anchor="end" class="tk">0.5</text>
<text x="407.15" y="66.05" transform="rotate(0.05 407.15 66.05)" text-anchor="end" class="tk">1.0</text>
<text x="407.15" y="38.43" transform="rotate(0.05 407.15 38.43)" text-anchor="end" class="tk">1.5</text>
<text x="407.15" y="10.8" transform="rotate(0.05 407.15 10.8)" text-anchor="end" class="tk">2.0</text>
<line x1="536.4" y1="22.6" x2="581.6" y2="22.6" stroke="#0808de" stroke-width="1.9"/>
<line x1="536.4" y1="48.2" x2="581.6" y2="48.2" stroke="#000" stroke-width="2.05" stroke-dasharray="6.7 2.3 6.7 2.3 6.7 2.3 6.7 2.3 12 0"/>
<text x="590" y="27.9" transform="rotate(0.05 590 27.9)" class="lg">ROCWD</text>
<text x="590" y="52.8" transform="rotate(0.05 590 52.8)" class="lg">ROISMCWD</text>
<text x="545.5" y="208.4" transform="rotate(0.05 545.5 208.8)" text-anchor="middle" class="ax">time (sec)</text>
<text transform="translate(371.8 90.2) rotate(-90)" text-anchor="middle" class="ax ay"><tspan font-style="italic">q</tspan><tspan dy="3.4" font-size="10" font-weight="normal" stroke="#111" stroke-width="0.35">2</tspan><tspan dy="-3.4"> (rad)</tspan></text>
<line x1="47.45" y1="312.25" x2="325.55" y2="312.25" stroke="#cfcfcf" stroke-width="0.8"/>
<path d="M53 312.2 L53.03 314.25 L53.08 316.86 L53.12 319.95 L53.18 323.46 L53.25 327.29 L53.32 331.38 L53.41 335.64 L53.5 340 L53.6 344.66 L53.72 349.79 L53.84 355.25 L53.97 360.88 L54.11 366.55 L54.26 372.1 L54.42 377.4 L54.6 382.3 L54.79 386.92 L54.99 391.44 L55.21 395.83 L55.43 400.04 L55.66 404.05 L55.91 407.8 L56.15 411.27 L56.4 414.4 L56.66 417.18 L56.92 419.65 L57.2 421.82 L57.48 423.74 L57.76 425.45 L58.05 426.97 L58.33 428.34 L58.6 429.6 L58.87 430.72 L59.13 431.64 L59.39 432.39 L59.66 432.98 L59.92 433.4 L60.18 433.67 L60.44 433.8 L60.7 433.8 L60.96 433.69 L61.23 433.47 L61.49 433.11 L61.75 432.6 L62.01 431.92 L62.28 431.03 L62.54 429.94 L62.8 428.6 L63.06 427.01 L63.32 425.2 L63.58 423.16 L63.84 420.93 L64.1 418.52 L64.36 415.95 L64.63 413.24 L64.9 410.4 L65.18 407.46 L65.46 404.4 L65.74 401.21 L66.03 397.86 L66.32 394.31 L66.61 390.56 L66.91 386.56 L67.2 382.3 L67.5 377.68 L67.8 372.67 L68.11 367.38 L68.42 361.89 L68.72 356.32 L69.03 350.75 L69.32 345.27 L69.6 340 L69.88 334.68 L70.15 329.14 L70.42 323.51 L70.69 317.98 L70.94 312.7 L71.18 307.84 L71.4 303.55 L71.6 300 L71.77 297.17 L71.92 294.9 L72.04 293.13 L72.15 291.81 L72.25 290.89 L72.36 290.32 L72.47 290.04 L72.6 290 L72.73 290.32 L72.85 291.1 L72.97 292.27 L73.09 293.74 L73.23 295.42 L73.39 297.25 L73.58 299.14 L73.8 301 L74.06 303 L74.34 305.28 L74.65 307.73 L74.99 310.27 L75.34 312.78 L75.71 315.18 L76.1 317.35 L76.5 319.2 L76.93 320.7 L77.4 321.92 L77.9 322.94 L78.41 323.83 L78.92 324.66 L79.42 325.5 L79.88 326.42 L80.3 327.5 L80.68 328.75 L81.03 330.11 L81.36 331.54 L81.67 332.98 L81.97 334.4 L82.25 335.74 L82.53 336.95 L82.8 338 L83.07 338.89 L83.34 339.67 L83.61 340.36 L83.86 340.96 L84.09 341.47 L84.29 341.91 L84.47 342.29 L84.6 342.6 L85.11 342.25 L85.63 341.21 L86.14 339.5 L86.66 337.16 L87.17 334.24 L87.69 330.82 L88.2 326.95 L88.71 322.74 L89.23 318.26 L89.74 313.64 L90.26 308.96 L90.77 304.34 L91.29 299.86 L91.8 295.65 L92.31 291.78 L92.83 288.36 L93.34 285.44 L93.86 283.1 L94.37 281.39 L94.89 280.35 L95.4 280 L95.91 280.24 L96.43 280.94 L96.94 282.1 L97.45 283.69 L97.97 285.69 L98.48 288.05 L98.99 290.73 L99.5 293.69 L100.02 296.86 L100.53 300.19 L101.04 303.62 L101.56 307.08 L102.07 310.51 L102.58 313.84 L103.1 317.01 L103.61 319.97 L104.12 322.65 L104.63 325.01 L105.15 327.01 L105.66 328.6 L106.17 329.76 L106.69 330.46 L107.2 330.7 L107.7 330.55 L108.2 330.12 L108.7 329.4 L109.2 328.41 L109.7 327.17 L110.2 325.7 L110.7 324.03 L111.2 322.2 L111.7 320.22 L112.2 318.15 L112.7 316.02 L113.2 313.88 L113.7 311.75 L114.2 309.68 L114.7 307.7 L115.2 305.87 L115.7 304.2 L116.2 302.73 L116.7 301.49 L117.2 300.5 L117.7 299.78 L118.2 299.35 L118.7 299.2 L119.21 299.31 L119.73 299.63 L120.24 300.17 L120.75 300.9 L121.27 301.81 L121.78 302.89 L122.3 304.12 L122.81 305.46 L123.32 306.89 L123.84 308.38 L124.35 309.9 L124.86 311.42 L125.38 312.91 L125.89 314.34 L126.4 315.68 L126.92 316.91 L127.43 317.99 L127.95 318.9 L128.46 319.63 L128.97 320.17 L129.49 320.49 L130 320.6 L130.51 320.53 L131.03 320.31 L131.54 319.94 L132.05 319.45 L132.57 318.83 L133.08 318.1 L133.6 317.27 L134.11 316.36 L134.62 315.39 L135.14 314.38 L135.65 313.35 L136.16 312.32 L136.68 311.31 L137.19 310.34 L137.7 309.43 L138.22 308.6 L138.73 307.87 L139.25 307.25 L139.76 306.76 L140.27 306.39 L140.79 306.17 L141.3 306.1 L141.81 306.15 L142.33 306.3 L142.84 306.54 L143.35 306.87 L143.87 307.28 L144.38 307.77 L144.9 308.33 L145.41 308.94 L145.92 309.58 L146.44 310.26 L146.95 310.95 L147.46 311.64 L147.98 312.32 L148.49 312.96 L149 313.57 L149.52 314.13 L150.03 314.62 L150.55 315.03 L151.06 315.36 L151.57 315.6 L152.09 315.75 L152.6 315.8 L153.11 315.77 L153.63 315.67 L154.14 315.5 L154.65 315.28 L155.17 314.99 L155.68 314.66 L156.2 314.28 L156.71 313.87 L157.22 313.43 L157.74 312.97 L158.25 312.5 L158.76 312.03 L159.28 311.57 L159.79 311.13 L160.3 310.72 L160.82 310.34 L161.33 310.01 L161.85 309.72 L162.36 309.5 L162.87 309.33 L163.39 309.23 L163.9 309.2 L164.4 309.22 L164.9 309.28 L165.4 309.38 L165.9 309.51 L166.4 309.69 L166.9 309.89 L167.4 310.12 L167.9 310.38 L168.4 310.65 L168.9 310.94 L169.4 311.24 L169.9 311.55 L170.4 311.86 L170.9 312.16 L171.4 312.45 L171.9 312.72 L172.4 312.98 L172.9 313.21 L173.4 313.41 L173.9 313.59 L174.4 313.72 L174.9 313.82 L175.4 313.88 L175.9 313.9 L176.4 313.88 L176.91 313.84 L177.41 313.76 L177.92 313.65 L178.42 313.51 L178.93 313.35 L179.43 313.18 L179.94 312.98 L180.44 312.77 L180.95 312.56 L181.45 312.34 L181.96 312.13 L182.46 311.92 L182.97 311.73 L183.47 311.55 L183.98 311.39 L184.48 311.25 L184.99 311.14 L185.49 311.06 L186 311.02 L186.5 311 L187 311.01 L187.51 311.05 L188.01 311.1 L188.52 311.18 L189.03 311.28 L189.53 311.39 L190.03 311.52 L190.54 311.66 L191.04 311.8 L191.55 311.95 L192.06 312.1 L192.56 312.24 L193.06 312.38 L193.57 312.51 L194.07 312.62 L194.58 312.72 L195.09 312.8 L195.59 312.85 L196.09 312.89 L196.6 312.9 L197.12 312.89 L197.64 312.88 L198.15 312.85 L198.67 312.82 L199.19 312.78 L199.71 312.73 L200.23 312.67 L200.75 312.61 L201.26 312.54 L201.78 312.47 L202.3 312.4 L202.82 312.33 L203.34 312.26 L203.85 312.19 L204.37 312.13 L204.89 312.07 L205.41 312.02 L205.93 311.98 L206.45 311.95 L206.96 311.92 L207.48 311.91 L208 311.9 L208.5 311.9 L209 311.91 L209.5 311.93 L210 311.95 L210.5 311.97 L211 312 L211.5 312.04 L212 312.08 L212.5 312.12 L213 312.16 L213.5 312.2 L214 312.24 L214.5 312.28 L215 312.32 L215.5 312.36 L216 312.4 L216.5 312.43 L217 312.45 L217.5 312.47 L218 312.49 L218.5 312.5 L219 312.5 L219.5 312.5 L220 312.5 L220.5 312.49 L221 312.48 L221.5 312.47 L222 312.46 L222.5 312.45 L223 312.44 L223.5 312.42 L224 312.4 L224.5 312.39 L225 312.37 L225.5 312.35 L226 312.33 L226.5 312.31 L227 312.3 L227.5 312.28 L228 312.26 L228.5 312.25 L229 312.24 L229.5 312.23 L230 312.22 L230.5 312.21 L231 312.2 L231.5 312.2 L232 312.2 L232.5 312.2 L233 312.2 L233.5 312.2 L234 312.2 L234.5 312.2 L235 312.2 L235.5 312.2 L236 312.2 L236.51 312.2 L237.01 312.2 L237.51 312.2 L238.01 312.2 L238.51 312.2 L239.01 312.2 L239.51 312.2 L240.01 312.2 L240.51 312.2 L241.01 312.2 L241.51 312.2 L242.01 312.2 L242.51 312.2 L243.01 312.2 L243.51 312.2 L244.01 312.2 L244.51 312.2 L245.01 312.2 L245.52 312.2 L246.02 312.2 L246.52 312.2 L247.02 312.2 L247.52 312.2 L248.02 312.2 L248.52 312.2 L249.02 312.2 L249.52 312.2 L250.02 312.2 L250.52 312.2 L251.02 312.2 L251.52 312.2 L252.02 312.2 L252.52 312.2 L253.02 312.2 L253.52 312.2 L254.02 312.2 L254.53 312.2 L255.03 312.2 L255.53 312.2 L256.03 312.2 L256.53 312.2 L257.03 312.2 L257.53 312.2 L258.03 312.2 L258.53 312.2 L259.03 312.2 L259.53 312.2 L260.03 312.2 L260.53 312.2 L261.03 312.2 L261.53 312.2 L262.03 312.2 L262.53 312.2 L263.04 312.2 L263.54 312.2 L264.04 312.2 L264.54 312.2 L265.04 312.2 L265.54 312.2 L266.04 312.2 L266.54 312.2 L267.04 312.2 L267.54 312.2 L268.04 312.2 L268.54 312.2 L269.04 312.2 L269.54 312.2 L270.04 312.2 L270.54 312.2 L271.04 312.2 L271.54 312.2 L272.05 312.2 L272.55 312.2 L273.05 312.2 L273.55 312.2 L274.05 312.2 L274.55 312.2 L275.05 312.2 L275.55 312.2 L276.05 312.2 L276.55 312.2 L277.05 312.2 L277.55 312.2 L278.05 312.2 L278.55 312.2 L279.05 312.2 L279.55 312.2 L280.05 312.2 L280.55 312.2 L281.06 312.2 L281.56 312.2 L282.06 312.2 L282.56 312.2 L283.06 312.2 L283.56 312.2 L284.06 312.2 L284.56 312.2 L285.06 312.2 L285.56 312.2 L286.06 312.2 L286.56 312.2 L287.06 312.2 L287.56 312.2 L288.06 312.2 L288.56 312.2 L289.06 312.2 L289.56 312.2 L290.07 312.2 L290.57 312.2 L291.07 312.2 L291.57 312.2 L292.07 312.2 L292.57 312.2 L293.07 312.2 L293.57 312.2 L294.07 312.2 L294.57 312.2 L295.07 312.2 L295.57 312.2 L296.07 312.2 L296.57 312.2 L297.07 312.2 L297.57 312.2 L298.07 312.2 L298.58 312.2 L299.08 312.2 L299.58 312.2 L300.08 312.2 L300.58 312.2 L301.08 312.2 L301.58 312.2 L302.08 312.2 L302.58 312.2 L303.08 312.2 L303.58 312.2 L304.08 312.2 L304.58 312.2 L305.08 312.2 L305.58 312.2 L306.08 312.2 L306.58 312.2 L307.08 312.2 L307.59 312.2 L308.09 312.2 L308.59 312.2 L309.09 312.2 L309.59 312.2 L310.09 312.2 L310.59 312.2 L311.09 312.2 L311.59 312.2 L312.09 312.2 L312.59 312.2 L313.09 312.2 L313.59 312.2 L314.09 312.2 L314.59 312.2 L315.09 312.2 L315.59 312.2 L316.09 312.2 L316.6 312.2 L317.1 312.2 L317.6 312.2 L318.1 312.2 L318.6 312.2 L319.1 312.2 L319.6 312.2 L320.1 312.2 L320.6 312.2" fill="none" stroke="#0808de" stroke-width="1.85" stroke-linejoin="round" stroke-linecap="butt"/>
<path d="M53 312.2 L53.03 314.25 L53.08 316.86 L53.12 319.95 L53.18 323.46 L53.25 327.29 L53.32 331.38 L53.41 335.64 L53.5 340 L53.6 344.66 L53.72 349.79 L53.84 355.25 L53.97 360.88 L54.11 366.55 L54.26 372.1 L54.42 377.4 L54.6 382.3 L54.79 386.92 L54.99 391.44 L55.21 395.83 L55.43 400.04 L55.66 404.05 L55.91 407.8 L56.15 411.27 L56.4 414.4 L56.66 417.18 L56.92 419.65 L57.2 421.82 L57.48 423.74 L57.76 425.45 L58.05 426.97 L58.33 428.34 L58.6 429.6 L58.87 430.72 L59.13 431.64 L59.39 432.39 L59.66 432.98 L59.92 433.4 L60.18 433.67 L60.44 433.8 L60.7 433.8 L60.96 433.69 L61.23 433.47 L61.49 433.11 L61.75 432.6 L62.01 431.92 L62.28 431.03 L62.54 429.94 L62.8 428.6 L63.06 427.01 L63.32 425.2 L63.58 423.16 L63.84 420.93 L64.1 418.52 L64.36 415.95 L64.63 413.24 L64.9 410.4 L65.18 407.46 L65.46 404.4 L65.74 401.21 L66.03 397.86 L66.32 394.31 L66.61 390.56 L66.91 386.56 L67.2 382.3 L67.5 377.66 L67.8 372.62 L68.11 367.29 L68.42 361.77 L68.72 356.17 L69.03 350.61 L69.32 345.18 L69.6 340 L69.88 334.84 L70.15 329.5 L70.42 324.13 L70.69 318.87 L70.94 313.88 L71.18 309.3 L71.4 305.29 L71.6 302 L71.77 299.44 L71.92 297.47 L72.04 296.02 L72.15 295.01 L72.25 294.36 L72.36 294 L72.47 293.84 L72.6 293.8 L72.73 293.98 L72.85 294.49 L72.97 295.28 L73.09 296.31 L73.23 297.55 L73.39 298.93 L73.58 300.43 L73.8 302 L74.06 303.78 L74.34 305.89 L74.65 308.2 L74.99 310.63 L75.34 313.04 L75.71 315.35 L76.1 317.44 L76.5 319.2 L76.93 320.62 L77.4 321.78 L77.9 322.76 L78.41 323.61 L78.92 324.4 L79.42 325.19 L79.88 326.03 L80.3 327 L80.68 328.1 L81.04 329.28 L81.37 330.51 L81.68 331.74 L81.98 332.94 L82.26 334.07 L82.53 335.11 L82.8 336 L83.06 336.77 L83.32 337.45 L83.57 338.04 L83.81 338.56 L84.02 339.01 L84.21 339.4 L84.37 339.73 L84.5 340 L85.02 339.66 L85.54 338.64 L86.06 336.98 L86.58 334.71 L87.1 331.89 L87.62 328.58 L88.14 324.88 L88.66 320.86 L89.18 316.63 L89.7 312.3 L90.22 307.97 L90.74 303.74 L91.26 299.72 L91.78 296.02 L92.3 292.71 L92.82 289.89 L93.34 287.62 L93.86 285.96 L94.38 284.94 L94.9 284.6 L95.4 284.79 L95.9 285.34 L96.4 286.26 L96.9 287.51 L97.4 289.09 L97.9 290.97 L98.4 293.11 L98.9 295.48 L99.4 298.03 L99.9 300.72 L100.4 303.51 L100.9 306.35 L101.4 309.19 L101.9 311.98 L102.4 314.67 L102.9 317.23 L103.4 319.59 L103.9 321.73 L104.4 323.61 L104.9 325.19 L105.4 326.44 L105.9 327.36 L106.4 327.91 L106.9 328.1 L107.4 327.98 L107.9 327.62 L108.4 327.03 L108.9 326.22 L109.4 325.21 L109.9 324 L110.4 322.64 L110.9 321.13 L111.4 319.52 L111.9 317.82 L112.4 316.08 L112.9 314.32 L113.4 312.58 L113.9 310.88 L114.4 309.27 L114.9 307.76 L115.4 306.4 L115.9 305.19 L116.4 304.18 L116.9 303.37 L117.4 302.78 L117.9 302.42 L118.4 302.3 L118.9 302.37 L119.4 302.6 L119.9 302.97 L120.4 303.47 L120.9 304.11 L121.4 304.86 L121.9 305.71 L122.4 306.65 L122.9 307.65 L123.4 308.71 L123.9 309.8 L124.4 310.9 L124.9 311.99 L125.4 313.05 L125.9 314.05 L126.4 314.99 L126.9 315.84 L127.4 316.59 L127.9 317.23 L128.4 317.73 L128.9 318.1 L129.4 318.33 L129.9 318.4 L130.4 318.35 L130.91 318.22 L131.41 317.99 L131.92 317.68 L132.42 317.28 L132.93 316.82 L133.43 316.29 L133.93 315.7 L134.44 315.07 L134.94 314.4 L135.45 313.7 L135.95 313 L136.45 312.3 L136.96 311.6 L137.46 310.93 L137.97 310.3 L138.47 309.71 L138.97 309.18 L139.48 308.72 L139.98 308.32 L140.49 308.01 L140.99 307.78 L141.5 307.65 L142 307.6 L142.5 307.64 L143 307.78 L143.5 308 L144 308.3 L144.5 308.67 L145 309.1 L145.5 309.59 L146 310.12 L146.5 310.68 L147 311.25 L147.5 311.82 L148 312.38 L148.5 312.91 L149 313.4 L149.5 313.83 L150 314.2 L150.5 314.5 L151 314.72 L151.5 314.86 L152 314.9 L152.5 314.88 L153.01 314.82 L153.51 314.73 L154.02 314.6 L154.52 314.44 L155.02 314.25 L155.53 314.03 L156.03 313.79 L156.54 313.52 L157.04 313.24 L157.54 312.95 L158.05 312.65 L158.55 312.35 L159.06 312.05 L159.56 311.76 L160.06 311.48 L160.57 311.21 L161.07 310.97 L161.58 310.75 L162.08 310.56 L162.58 310.4 L163.09 310.27 L163.59 310.18 L164.1 310.12 L164.6 310.1 L165.11 310.12 L165.63 310.17 L166.14 310.26 L166.65 310.39 L167.17 310.54 L167.68 310.72 L168.2 310.93 L168.71 311.15 L169.22 311.39 L169.74 311.64 L170.25 311.9 L170.76 312.16 L171.28 312.41 L171.79 312.65 L172.3 312.87 L172.82 313.08 L173.33 313.26 L173.85 313.41 L174.36 313.54 L174.87 313.63 L175.39 313.68 L175.9 313.7 L176.4 313.69 L176.91 313.64 L177.41 313.57 L177.92 313.47 L178.42 313.35 L178.93 313.21 L179.43 313.05 L179.94 312.87 L180.44 312.69 L180.95 312.5 L181.45 312.3 L181.96 312.11 L182.46 311.93 L182.97 311.75 L183.47 311.59 L183.98 311.45 L184.48 311.33 L184.99 311.23 L185.49 311.16 L186 311.11 L186.5 311.1 L187 311.11 L187.51 311.14 L188.01 311.19 L188.52 311.26 L189.03 311.35 L189.53 311.45 L190.03 311.56 L190.54 311.69 L191.04 311.82 L191.55 311.95 L192.06 312.08 L192.56 312.21 L193.06 312.34 L193.57 312.45 L194.07 312.55 L194.58 312.64 L195.09 312.71 L195.59 312.76 L196.09 312.79 L196.6 312.8 L197.12 312.8 L197.64 312.78 L198.15 312.76 L198.67 312.73 L199.19 312.69 L199.71 312.64 L200.23 312.59 L200.75 312.54 L201.26 312.48 L201.78 312.41 L202.3 312.35 L202.82 312.29 L203.34 312.22 L203.85 312.16 L204.37 312.11 L204.89 312.06 L205.41 312.01 L205.93 311.97 L206.45 311.94 L206.96 311.92 L207.48 311.9 L208 311.9 L208.5 311.9 L209 311.91 L209.5 311.93 L210 311.95 L210.5 311.97 L211 312 L211.5 312.04 L212 312.08 L212.5 312.12 L213 312.16 L213.5 312.2 L214 312.24 L214.5 312.28 L215 312.32 L215.5 312.36 L216 312.4 L216.5 312.43 L217 312.45 L217.5 312.47 L218 312.49 L218.5 312.5 L219 312.5 L219.5 312.5 L220 312.5 L220.5 312.49 L221 312.48 L221.5 312.47 L222 312.46 L222.5 312.45 L223 312.44 L223.5 312.42 L224 312.4 L224.5 312.39 L225 312.37 L225.5 312.35 L226 312.33 L226.5 312.31 L227 312.3 L227.5 312.28 L228 312.26 L228.5 312.25 L229 312.24 L229.5 312.23 L230 312.22 L230.5 312.21 L231 312.2 L231.5 312.2 L232 312.2 L232.5 312.2 L233 312.2 L233.5 312.2 L234 312.2 L234.5 312.2 L235 312.2 L235.5 312.2 L236 312.2 L236.51 312.2 L237.01 312.2 L237.51 312.2 L238.01 312.2 L238.51 312.2 L239.01 312.2 L239.51 312.2 L240.01 312.2 L240.51 312.2 L241.01 312.2 L241.51 312.2 L242.01 312.2 L242.51 312.2 L243.01 312.2 L243.51 312.2 L244.01 312.2 L244.51 312.2 L245.01 312.2 L245.52 312.2 L246.02 312.2 L246.52 312.2 L247.02 312.2 L247.52 312.2 L248.02 312.2 L248.52 312.2 L249.02 312.2 L249.52 312.2 L250.02 312.2 L250.52 312.2 L251.02 312.2 L251.52 312.2 L252.02 312.2 L252.52 312.2 L253.02 312.2 L253.52 312.2 L254.02 312.2 L254.53 312.2 L255.03 312.2 L255.53 312.2 L256.03 312.2 L256.53 312.2 L257.03 312.2 L257.53 312.2 L258.03 312.2 L258.53 312.2 L259.03 312.2 L259.53 312.2 L260.03 312.2 L260.53 312.2 L261.03 312.2 L261.53 312.2 L262.03 312.2 L262.53 312.2 L263.04 312.2 L263.54 312.2 L264.04 312.2 L264.54 312.2 L265.04 312.2 L265.54 312.2 L266.04 312.2 L266.54 312.2 L267.04 312.2 L267.54 312.2 L268.04 312.2 L268.54 312.2 L269.04 312.2 L269.54 312.2 L270.04 312.2 L270.54 312.2 L271.04 312.2 L271.54 312.2 L272.05 312.2 L272.55 312.2 L273.05 312.2 L273.55 312.2 L274.05 312.2 L274.55 312.2 L275.05 312.2 L275.55 312.2 L276.05 312.2 L276.55 312.2 L277.05 312.2 L277.55 312.2 L278.05 312.2 L278.55 312.2 L279.05 312.2 L279.55 312.2 L280.05 312.2 L280.55 312.2 L281.06 312.2 L281.56 312.2 L282.06 312.2 L282.56 312.2 L283.06 312.2 L283.56 312.2 L284.06 312.2 L284.56 312.2 L285.06 312.2 L285.56 312.2 L286.06 312.2 L286.56 312.2 L287.06 312.2 L287.56 312.2 L288.06 312.2 L288.56 312.2 L289.06 312.2 L289.56 312.2 L290.07 312.2 L290.57 312.2 L291.07 312.2 L291.57 312.2 L292.07 312.2 L292.57 312.2 L293.07 312.2 L293.57 312.2 L294.07 312.2 L294.57 312.2 L295.07 312.2 L295.57 312.2 L296.07 312.2 L296.57 312.2 L297.07 312.2 L297.57 312.2 L298.07 312.2 L298.58 312.2 L299.08 312.2 L299.58 312.2 L300.08 312.2 L300.58 312.2 L301.08 312.2 L301.58 312.2 L302.08 312.2 L302.58 312.2 L303.08 312.2 L303.58 312.2 L304.08 312.2 L304.58 312.2 L305.08 312.2 L305.58 312.2 L306.08 312.2 L306.58 312.2 L307.08 312.2 L307.59 312.2 L308.09 312.2 L308.59 312.2 L309.09 312.2 L309.59 312.2 L310.09 312.2 L310.59 312.2 L311.09 312.2 L311.59 312.2 L312.09 312.2 L312.59 312.2 L313.09 312.2 L313.59 312.2 L314.09 312.2 L314.59 312.2 L315.09 312.2 L315.59 312.2 L316.09 312.2 L316.6 312.2 L317.1 312.2 L317.6 312.2 L318.1 312.2 L318.6 312.2 L319.1 312.2 L319.6 312.2 L320.1 312.2 L320.6 312.2" fill="none" stroke="#000" stroke-width="2.1" stroke-dasharray="7 2.5" stroke-linejoin="round"/>
<path d="M52.9 442.5v-3.3M52.9 270.5v3.3M63.61 442.5v-1.8M63.61 270.5v1.8M74.32 442.5v-1.8M74.32 270.5v1.8M85.04 442.5v-1.8M85.04 270.5v1.8M95.75 442.5v-1.8M95.75 270.5v1.8M106.46 442.5v-3.3M106.46 270.5v3.3M117.17 442.5v-1.8M117.17 270.5v1.8M127.88 442.5v-1.8M127.88 270.5v1.8M138.6 442.5v-1.8M138.6 270.5v1.8M149.31 442.5v-1.8M149.31 270.5v1.8M160.02 442.5v-3.3M160.02 270.5v3.3M170.73 442.5v-1.8M170.73 270.5v1.8M181.44 442.5v-1.8M181.44 270.5v1.8M192.16 442.5v-1.8M192.16 270.5v1.8M202.87 442.5v-1.8M202.87 270.5v1.8M213.58 442.5v-3.3M213.58 270.5v3.3M224.29 442.5v-1.8M224.29 270.5v1.8M235 442.5v-1.8M235 270.5v1.8M245.72 442.5v-1.8M245.72 270.5v1.8M256.43 442.5v-1.8M256.43 270.5v1.8M267.14 442.5v-3.3M267.14 270.5v3.3M277.85 442.5v-1.8M277.85 270.5v1.8M288.56 442.5v-1.8M288.56 270.5v1.8M299.28 442.5v-1.8M299.28 270.5v1.8M309.99 442.5v-1.8M309.99 270.5v1.8M320.7 442.5v-3.3M320.7 270.5v3.3M47.45 434.75h1.8M325.55 434.75h-1.8M47.45 426h1.8M325.55 426h-1.8M47.45 417.25h3.3M325.55 417.25h-3.3M47.45 408.5h1.8M325.55 408.5h-1.8M47.45 399.75h1.8M325.55 399.75h-1.8M47.45 391h1.8M325.55 391h-1.8M47.45 382.25h3.3M325.55 382.25h-3.3M47.45 373.5h1.8M325.55 373.5h-1.8M47.45 364.75h1.8M325.55 364.75h-1.8M47.45 356h1.8M325.55 356h-1.8M47.45 347.25h3.3M325.55 347.25h-3.3M47.45 338.5h1.8M325.55 338.5h-1.8M47.45 329.75h1.8M325.55 329.75h-1.8M47.45 321h1.8M325.55 321h-1.8M47.45 312.25h3.3M325.55 312.25h-3.3M47.45 303.5h1.8M325.55 303.5h-1.8M47.45 294.75h1.8M325.55 294.75h-1.8M47.45 286h1.8M325.55 286h-1.8M47.45 277.25h3.3M325.55 277.25h-3.3" stroke="#0c0c0c" stroke-width="0.85" fill="none"/>
<rect x="47.45" y="270.5" width="278.1" height="172" fill="none" stroke="#636363" stroke-width="0.9"/>
<text x="52.9" y="456.8" transform="rotate(0.05 52.9 456.8)" text-anchor="middle" class="tk">0</text>
<text x="106.46" y="456.8" transform="rotate(0.05 106.46 456.8)" text-anchor="middle" class="tk">1</text>
<text x="160.02" y="456.8" transform="rotate(0.05 160.02 456.8)" text-anchor="middle" class="tk">2</text>
<text x="213.58" y="456.8" transform="rotate(0.05 213.58 456.8)" text-anchor="middle" class="tk">3</text>
<text x="267.14" y="456.8" transform="rotate(0.05 267.14 456.8)" text-anchor="middle" class="tk">4</text>
<text x="320.7" y="456.8" transform="rotate(0.05 320.7 456.8)" text-anchor="middle" class="tk">5</text>
<text x="43.25" y="421.15" transform="rotate(0.05 43.25 421.15)" text-anchor="end" class="tk">−6</text>
<text x="43.25" y="386.15" transform="rotate(0.05 43.25 386.15)" text-anchor="end" class="tk">−4</text>
<text x="43.25" y="351.15" transform="rotate(0.05 43.25 351.15)" text-anchor="end" class="tk">−2</text>
<text x="43.25" y="316.15" transform="rotate(0.05 43.25 316.15)" text-anchor="end" class="tk">0</text>
<text x="43.25" y="281.15" transform="rotate(0.05 43.25 281.15)" text-anchor="end" class="tk">2</text>
<line x1="182" y1="398.8" x2="227.8" y2="398.8" stroke="#0808de" stroke-width="1.9"/>
<line x1="182" y1="425.2" x2="227.8" y2="425.2" stroke="#000" stroke-width="2.05" stroke-dasharray="6.7 2.3 6.7 2.3 6.7 2.3 6.7 2.3 12 0"/>
<text x="236.2" y="404.1" transform="rotate(0.05 236.2 404.1)" class="lg">ROCWD</text>
<text x="236.2" y="429.8" transform="rotate(0.05 236.2 429.8)" class="lg">ROISMCWD</text>
<text x="186.8" y="478.4" transform="rotate(0.05 186.8 478.8)" text-anchor="middle" class="ax">time (sec)</text>
<text transform="translate(18.0 356.3) rotate(-90)" text-anchor="middle" class="ax ay" style="font-size:13px">dotq<tspan dy="3.4" font-size="10" font-weight="bold">1</tspan><tspan dy="-3.4">(rad/sec)</tspan></text>
<line x1="404.9" y1="338.3" x2="683.5" y2="338.3" stroke="#858585" stroke-width="0.8"/>
<path d="M409.9 338 L410.02 337.65 L410.17 337.16 L410.35 336.58 L410.55 335.94 L410.76 335.28 L410.98 334.65 L411.2 334.07 L411.4 333.6 L411.6 333.19 L411.79 332.78 L411.99 332.4 L412.19 332.06 L412.4 331.78 L412.6 331.56 L412.8 331.43 L413 331.4 L413.2 331.48 L413.4 331.67 L413.6 331.94 L413.81 332.27 L414.01 332.67 L414.21 333.1 L414.4 333.55 L414.6 334 L414.79 334.42 L414.96 334.8 L415.13 335.19 L415.3 335.63 L415.48 336.14 L415.66 336.78 L415.87 337.59 L416.1 338.6 L416.35 339.78 L416.61 341.08 L416.89 342.51 L417.18 344.09 L417.48 345.81 L417.8 347.7 L418.14 349.76 L418.5 352 L418.88 354.47 L419.29 357.16 L419.71 360.05 L420.15 363.09 L420.6 366.24 L421.06 369.47 L421.53 372.74 L422 376 L422.49 379.36 L423 382.91 L423.53 386.56 L424.07 390.25 L424.6 393.91 L425.1 397.47 L425.57 400.86 L426 404 L426.39 406.96 L426.74 409.82 L427.07 412.56 L427.38 415.18 L427.67 417.64 L427.93 419.95 L428.17 422.07 L428.4 424 L428.6 425.79 L428.77 427.49 L428.91 429.05 L429.03 430.42 L429.14 431.57 L429.26 432.45 L429.37 433 L429.5 433.2 L429.63 433.14 L429.74 432.92 L429.86 432.45 L429.97 431.67 L430.09 430.51 L430.23 428.9 L430.4 426.75 L430.6 424 L430.83 420.51 L431.09 416.3 L431.37 411.5 L431.68 406.27 L431.99 400.76 L432.32 395.12 L432.66 389.48 L433 384 L433.35 378.55 L433.72 372.92 L434.1 367.17 L434.49 361.35 L434.88 355.51 L435.29 349.71 L435.69 343.99 L436.1 338.4 L436.52 332.75 L436.96 326.89 L437.42 320.97 L437.88 315.16 L438.32 309.61 L438.75 304.46 L439.14 299.87 L439.5 296 L439.81 292.9 L440.1 290.45 L440.36 288.53 L440.59 287.04 L440.81 285.85 L441.02 284.86 L441.21 283.95 L441.4 283 L441.58 282.13 L441.76 281.48 L441.92 281.01 L442.07 280.69 L442.2 280.47 L442.32 280.3 L442.42 280.16 L442.5 280 L443.01 280.5 L443.52 282.01 L444.03 284.47 L444.54 287.86 L445.05 292.09 L445.55 297.08 L446.06 302.74 L446.57 308.94 L447.08 315.55 L447.59 322.46 L448.1 329.5 L448.61 336.54 L449.12 343.45 L449.63 350.06 L450.14 356.26 L450.65 361.92 L451.15 366.91 L451.66 371.14 L452.17 374.53 L452.68 376.99 L453.19 378.5 L453.7 379 L454.2 378.67 L454.7 377.71 L455.2 376.11 L455.7 373.92 L456.2 371.17 L456.7 367.92 L457.2 364.23 L457.7 360.16 L458.2 355.79 L458.7 351.2 L459.2 346.48 L459.7 341.72 L460.2 337 L460.7 332.41 L461.2 328.04 L461.7 323.97 L462.2 320.28 L462.7 317.03 L463.2 314.28 L463.7 312.09 L464.2 310.49 L464.7 309.53 L465.2 309.2 L465.7 309.43 L466.2 310.1 L466.7 311.2 L467.2 312.72 L467.7 314.63 L468.2 316.88 L468.7 319.44 L469.2 322.27 L469.7 325.3 L470.2 328.48 L470.7 331.75 L471.2 335.05 L471.7 338.32 L472.2 341.5 L472.7 344.53 L473.2 347.36 L473.7 349.92 L474.2 352.17 L474.7 354.08 L475.2 355.6 L475.7 356.7 L476.2 357.37 L476.7 357.6 L477.22 357.43 L477.74 356.94 L478.25 356.13 L478.77 355.01 L479.29 353.62 L479.81 351.97 L480.33 350.11 L480.85 348.07 L481.36 345.89 L481.88 343.62 L482.4 341.3 L482.92 338.98 L483.44 336.71 L483.95 334.53 L484.47 332.49 L484.99 330.63 L485.51 328.98 L486.03 327.59 L486.55 326.47 L487.06 325.66 L487.58 325.17 L488.1 325 L488.62 325.11 L489.14 325.45 L489.65 326.01 L490.17 326.77 L490.69 327.72 L491.21 328.85 L491.73 330.12 L492.25 331.52 L492.76 333.01 L493.28 334.56 L493.8 336.15 L494.32 337.74 L494.84 339.29 L495.35 340.78 L495.87 342.18 L496.39 343.45 L496.91 344.58 L497.43 345.53 L497.95 346.29 L498.46 346.85 L498.98 347.19 L499.5 347.3 L500 347.23 L500.51 347.02 L501.01 346.68 L501.52 346.22 L502.02 345.63 L502.53 344.94 L503.03 344.15 L503.53 343.28 L504.04 342.34 L504.54 341.37 L505.05 340.36 L505.55 339.34 L506.06 338.33 L506.56 337.36 L507.07 336.42 L507.57 335.55 L508.07 334.76 L508.58 334.07 L509.08 333.48 L509.59 333.02 L510.09 332.68 L510.6 332.47 L511.1 332.4 L511.61 332.44 L512.12 332.57 L512.62 332.77 L513.13 333.05 L513.64 333.4 L514.15 333.82 L514.66 334.3 L515.17 334.82 L515.67 335.39 L516.18 335.99 L516.69 336.62 L517.2 337.25 L517.71 337.88 L518.22 338.51 L518.73 339.11 L519.23 339.68 L519.74 340.2 L520.25 340.68 L520.76 341.1 L521.27 341.45 L521.77 341.73 L522.28 341.93 L522.79 342.06 L523.3 342.1 L523.81 342.06 L524.33 341.95 L524.84 341.76 L525.36 341.51 L525.87 341.19 L526.39 340.82 L526.9 340.4 L527.41 339.94 L527.93 339.46 L528.44 338.95 L528.96 338.45 L529.47 337.94 L529.99 337.46 L530.5 337 L531.01 336.58 L531.53 336.21 L532.04 335.89 L532.56 335.64 L533.07 335.45 L533.59 335.34 L534.1 335.3 L534.62 335.33 L535.14 335.4 L535.65 335.53 L536.17 335.7 L536.69 335.91 L537.21 336.16 L537.73 336.45 L538.25 336.76 L538.76 337.1 L539.28 337.44 L539.8 337.8 L540.32 338.16 L540.84 338.5 L541.35 338.84 L541.87 339.15 L542.39 339.44 L542.91 339.69 L543.43 339.9 L543.95 340.07 L544.46 340.2 L544.98 340.27 L545.5 340.3 L546.02 340.28 L546.53 340.24 L547.05 340.16 L547.57 340.05 L548.09 339.91 L548.6 339.74 L549.12 339.56 L549.64 339.36 L550.16 339.14 L550.67 338.91 L551.19 338.67 L551.71 338.43 L552.23 338.19 L552.74 337.96 L553.26 337.74 L553.78 337.54 L554.3 337.36 L554.81 337.19 L555.33 337.05 L555.85 336.94 L556.37 336.86 L556.88 336.82 L557.4 336.8 L557.91 336.81 L558.42 336.85 L558.93 336.91 L559.44 337 L559.95 337.11 L560.45 337.23 L560.96 337.37 L561.47 337.53 L561.98 337.7 L562.49 337.87 L563 338.05 L563.51 338.23 L564.02 338.4 L564.53 338.57 L565.04 338.73 L565.55 338.87 L566.05 338.99 L566.56 339.1 L567.07 339.19 L567.58 339.25 L568.09 339.29 L568.6 339.3 L569.11 339.29 L569.62 339.26 L570.13 339.21 L570.64 339.15 L571.15 339.07 L571.65 338.97 L572.16 338.86 L572.67 338.74 L573.18 338.62 L573.69 338.49 L574.2 338.35 L574.71 338.21 L575.22 338.08 L575.73 337.96 L576.24 337.84 L576.75 337.73 L577.25 337.63 L577.76 337.55 L578.27 337.49 L578.78 337.44 L579.29 337.41 L579.8 337.4 L580.31 337.41 L580.82 337.43 L581.33 337.46 L581.84 337.51 L582.35 337.57 L582.85 337.64 L583.36 337.72 L583.87 337.81 L584.38 337.9 L584.89 338 L585.4 338.1 L585.91 338.2 L586.42 338.3 L586.93 338.39 L587.44 338.48 L587.95 338.56 L588.45 338.63 L588.96 338.69 L589.47 338.74 L589.98 338.77 L590.49 338.79 L591 338.8 L591.5 338.8 L592 338.79 L592.5 338.77 L593 338.75 L593.5 338.72 L594 338.68 L594.5 338.64 L595 338.6 L595.5 338.55 L596 338.5 L596.5 338.45 L597 338.4 L597.5 338.35 L598 338.3 L598.5 338.25 L599 338.2 L599.5 338.16 L600 338.12 L600.5 338.08 L601 338.05 L601.5 338.03 L602 338.01 L602.5 338 L603 338 L603.5 338 L604 338 L604.5 338.01 L605 338.02 L605.5 338.03 L606 338.04 L606.5 338.05 L607 338.06 L607.5 338.08 L608 338.1 L608.5 338.11 L609 338.13 L609.5 338.15 L610 338.17 L610.5 338.19 L611 338.2 L611.5 338.22 L612 338.24 L612.5 338.25 L613 338.26 L613.5 338.27 L614 338.28 L614.5 338.29 L615 338.3 L615.5 338.3 L616 338.3 L616.5 338.3 L617.01 338.3 L617.51 338.3 L618.01 338.3 L618.52 338.3 L619.02 338.3 L619.52 338.3 L620.03 338.3 L620.53 338.3 L621.03 338.3 L621.54 338.3 L622.04 338.3 L622.54 338.3 L623.05 338.3 L623.55 338.3 L624.05 338.3 L624.56 338.3 L625.06 338.3 L625.56 338.3 L626.07 338.3 L626.57 338.3 L627.07 338.3 L627.58 338.3 L628.08 338.3 L628.58 338.3 L629.09 338.3 L629.59 338.3 L630.09 338.3 L630.6 338.3 L631.1 338.3 L631.6 338.3 L632.1 338.3 L632.61 338.3 L633.11 338.3 L633.61 338.3 L634.12 338.3 L634.62 338.3 L635.12 338.3 L635.63 338.3 L636.13 338.3 L636.63 338.3 L637.14 338.3 L637.64 338.3 L638.14 338.3 L638.65 338.3 L639.15 338.3 L639.65 338.3 L640.16 338.3 L640.66 338.3 L641.16 338.3 L641.67 338.3 L642.17 338.3 L642.67 338.3 L643.18 338.3 L643.68 338.3 L644.18 338.3 L644.69 338.3 L645.19 338.3 L645.69 338.3 L646.2 338.3 L646.7 338.3 L647.2 338.3 L647.71 338.3 L648.21 338.3 L648.71 338.3 L649.22 338.3 L649.72 338.3 L650.22 338.3 L650.73 338.3 L651.23 338.3 L651.73 338.3 L652.24 338.3 L652.74 338.3 L653.24 338.3 L653.75 338.3 L654.25 338.3 L654.75 338.3 L655.26 338.3 L655.76 338.3 L656.26 338.3 L656.77 338.3 L657.27 338.3 L657.77 338.3 L658.28 338.3 L658.78 338.3 L659.28 338.3 L659.79 338.3 L660.29 338.3 L660.79 338.3 L661.3 338.3 L661.8 338.3 L662.3 338.3 L662.8 338.3 L663.31 338.3 L663.81 338.3 L664.31 338.3 L664.82 338.3 L665.32 338.3 L665.82 338.3 L666.33 338.3 L666.83 338.3 L667.33 338.3 L667.84 338.3 L668.34 338.3 L668.84 338.3 L669.35 338.3 L669.85 338.3 L670.35 338.3 L670.86 338.3 L671.36 338.3 L671.86 338.3 L672.37 338.3 L672.87 338.3 L673.37 338.3 L673.88 338.3 L674.38 338.3 L674.88 338.3 L675.39 338.3 L675.89 338.3 L676.39 338.3 L676.9 338.3 L677.4 338.3" fill="none" stroke="#0808de" stroke-width="1.85" stroke-linejoin="round" stroke-linecap="butt"/>
<path d="M409.9 338 L410.02 337.65 L410.17 337.16 L410.35 336.58 L410.55 335.94 L410.76 335.28 L410.98 334.65 L411.2 334.07 L411.4 333.6 L411.6 333.19 L411.79 332.78 L411.99 332.4 L412.19 332.06 L412.4 331.78 L412.6 331.56 L412.8 331.43 L413 331.4 L413.2 331.48 L413.4 331.67 L413.6 331.94 L413.81 332.27 L414.01 332.67 L414.21 333.1 L414.4 333.55 L414.6 334 L414.79 334.42 L414.96 334.8 L415.13 335.19 L415.3 335.63 L415.48 336.14 L415.66 336.78 L415.87 337.59 L416.1 338.6 L416.35 339.78 L416.61 341.08 L416.89 342.51 L417.18 344.09 L417.48 345.81 L417.8 347.7 L418.14 349.76 L418.5 352 L418.88 354.47 L419.29 357.16 L419.71 360.05 L420.15 363.09 L420.6 366.24 L421.06 369.47 L421.53 372.74 L422 376 L422.49 379.41 L423.01 383.08 L423.55 386.89 L424.09 390.72 L424.62 394.46 L425.13 398 L425.59 401.21 L426 404 L426.35 406.34 L426.66 408.33 L426.94 410.03 L427.19 411.52 L427.41 412.85 L427.62 414.08 L427.81 415.27 L428 416.5 L428.17 417.8 L428.32 419.12 L428.45 420.42 L428.56 421.61 L428.67 422.65 L428.77 423.47 L428.88 424.01 L429 424.2 L429.11 424.14 L429.21 423.94 L429.3 423.53 L429.4 422.86 L429.51 421.88 L429.64 420.53 L429.8 418.75 L430 416.5 L430.24 413.71 L430.52 410.43 L430.83 406.7 L431.16 402.62 L431.5 398.24 L431.86 393.63 L432.23 388.86 L432.6 384 L432.98 378.86 L433.38 373.31 L433.79 367.46 L434.21 361.44 L434.63 355.4 L435.06 349.46 L435.48 343.75 L435.9 338.4 L436.32 333.24 L436.76 328.08 L437.2 323 L437.64 318.1 L438.07 313.46 L438.47 309.17 L438.85 305.32 L439.2 302 L439.51 299.27 L439.79 297.06 L440.05 295.29 L440.29 293.87 L440.51 292.72 L440.71 291.75 L440.91 290.87 L441.1 290 L441.28 289.23 L441.46 288.69 L441.62 288.33 L441.77 288.1 L441.9 287.97 L442.02 287.89 L442.12 287.81 L442.2 287.7 L442.72 288.16 L443.24 289.55 L443.76 291.81 L444.28 294.92 L444.8 298.79 L445.31 303.34 L445.83 308.47 L446.35 314.07 L446.87 320 L447.39 326.14 L447.91 332.36 L448.43 338.5 L448.95 344.43 L449.47 350.02 L449.99 355.16 L450.5 359.71 L451.02 363.58 L451.54 366.69 L452.06 368.95 L452.58 370.34 L453.1 370.8 L453.61 370.52 L454.13 369.69 L454.64 368.33 L455.15 366.46 L455.67 364.12 L456.18 361.36 L456.7 358.24 L457.21 354.81 L457.72 351.16 L458.24 347.34 L458.75 343.45 L459.26 339.56 L459.78 335.74 L460.29 332.09 L460.8 328.66 L461.32 325.54 L461.83 322.78 L462.35 320.44 L462.86 318.57 L463.37 317.21 L463.89 316.38 L464.4 316.1 L464.9 316.25 L465.4 316.7 L465.9 317.45 L466.4 318.47 L466.9 319.76 L467.4 321.28 L467.9 323.02 L468.4 324.95 L468.9 327.03 L469.4 329.22 L469.9 331.49 L470.4 333.8 L470.9 336.11 L471.4 338.38 L471.9 340.57 L472.4 342.65 L472.9 344.58 L473.4 346.32 L473.9 347.84 L474.4 349.13 L474.9 350.15 L475.4 350.9 L475.9 351.35 L476.4 351.5 L476.91 351.39 L477.42 351.05 L477.93 350.51 L478.44 349.75 L478.95 348.81 L479.45 347.7 L479.96 346.45 L480.47 345.07 L480.98 343.6 L481.49 342.07 L482 340.5 L482.51 338.93 L483.02 337.4 L483.53 335.93 L484.04 334.55 L484.55 333.3 L485.05 332.19 L485.56 331.25 L486.07 330.49 L486.58 329.95 L487.09 329.61 L487.6 329.5 L488.1 329.56 L488.61 329.76 L489.11 330.08 L489.62 330.51 L490.12 331.06 L490.63 331.71 L491.13 332.44 L491.63 333.25 L492.14 334.12 L492.64 335.04 L493.15 335.98 L493.65 336.92 L494.16 337.86 L494.66 338.78 L495.17 339.65 L495.67 340.46 L496.17 341.19 L496.68 341.84 L497.18 342.39 L497.69 342.82 L498.19 343.14 L498.7 343.34 L499.2 343.4 L499.72 343.36 L500.23 343.24 L500.75 343.04 L501.27 342.76 L501.79 342.41 L502.3 342 L502.82 341.54 L503.34 341.02 L503.86 340.47 L504.37 339.9 L504.89 339.3 L505.41 338.7 L505.93 338.1 L506.44 337.53 L506.96 336.98 L507.48 336.46 L508 336 L508.51 335.59 L509.03 335.24 L509.55 334.96 L510.07 334.76 L510.58 334.64 L511.1 334.6 L511.62 334.63 L512.13 334.71 L512.65 334.84 L513.17 335.03 L513.69 335.26 L514.2 335.54 L514.72 335.85 L515.24 336.19 L515.76 336.56 L516.27 336.95 L516.79 337.35 L517.31 337.75 L517.83 338.15 L518.34 338.54 L518.86 338.91 L519.38 339.25 L519.9 339.56 L520.41 339.84 L520.93 340.07 L521.45 340.26 L521.97 340.39 L522.48 340.47 L523 340.5 L523.52 340.48 L524.04 340.42 L524.55 340.33 L525.07 340.2 L525.59 340.04 L526.11 339.84 L526.63 339.63 L527.15 339.39 L527.66 339.14 L528.18 338.87 L528.7 338.6 L529.22 338.33 L529.74 338.06 L530.25 337.81 L530.77 337.57 L531.29 337.36 L531.81 337.16 L532.33 337 L532.85 336.87 L533.36 336.78 L533.88 336.72 L534.4 336.7 L534.9 336.71 L535.41 336.76 L535.91 336.83 L536.42 336.93 L536.92 337.05 L537.43 337.2 L537.93 337.37 L538.44 337.55 L538.94 337.74 L539.45 337.94 L539.95 338.15 L540.45 338.36 L540.96 338.56 L541.46 338.75 L541.97 338.93 L542.47 339.1 L542.98 339.25 L543.48 339.37 L543.99 339.47 L544.49 339.54 L545 339.59 L545.5 339.6 L546.02 339.59 L546.53 339.56 L547.05 339.5 L547.57 339.43 L548.09 339.33 L548.6 339.22 L549.12 339.09 L549.64 338.95 L550.16 338.8 L550.67 338.64 L551.19 338.48 L551.71 338.32 L552.23 338.16 L552.74 338 L553.26 337.85 L553.78 337.71 L554.3 337.58 L554.81 337.47 L555.33 337.37 L555.85 337.3 L556.37 337.24 L556.88 337.21 L557.4 337.2 L557.91 337.21 L558.42 337.24 L558.93 337.28 L559.44 337.34 L559.95 337.42 L560.45 337.51 L560.96 337.61 L561.47 337.73 L561.98 337.85 L562.49 337.97 L563 338.1 L563.51 338.23 L564.02 338.35 L564.53 338.47 L565.04 338.59 L565.55 338.69 L566.05 338.78 L566.56 338.86 L567.07 338.92 L567.58 338.96 L568.09 338.99 L568.6 339 L569.11 338.99 L569.62 338.97 L570.13 338.94 L570.64 338.89 L571.15 338.83 L571.65 338.76 L572.16 338.68 L572.67 338.59 L573.18 338.5 L573.69 338.4 L574.2 338.3 L574.71 338.2 L575.22 338.1 L575.73 338.01 L576.24 337.92 L576.75 337.84 L577.25 337.77 L577.76 337.71 L578.27 337.66 L578.78 337.63 L579.29 337.61 L579.8 337.6 L580.31 337.61 L580.82 337.62 L581.33 337.65 L581.84 337.69 L582.35 337.73 L582.85 337.79 L583.36 337.85 L583.87 337.92 L584.38 338 L584.89 338.07 L585.4 338.15 L585.91 338.23 L586.42 338.3 L586.93 338.38 L587.44 338.45 L587.95 338.51 L588.45 338.57 L588.96 338.61 L589.47 338.65 L589.98 338.68 L590.49 338.69 L591 338.7 L591.5 338.7 L592 338.69 L592.5 338.67 L593 338.65 L593.5 338.63 L594 338.6 L594.5 338.56 L595 338.52 L595.5 338.48 L596 338.44 L596.5 338.4 L597 338.35 L597.5 338.3 L598 338.26 L598.5 338.22 L599 338.18 L599.5 338.14 L600 338.1 L600.5 338.07 L601 338.05 L601.5 338.03 L602 338.01 L602.5 338 L603 338 L603.5 338 L604 338 L604.5 338.01 L605 338.02 L605.5 338.03 L606 338.04 L606.5 338.05 L607 338.06 L607.5 338.08 L608 338.1 L608.5 338.11 L609 338.13 L609.5 338.15 L610 338.17 L610.5 338.19 L611 338.2 L611.5 338.22 L612 338.24 L612.5 338.25 L613 338.26 L613.5 338.27 L614 338.28 L614.5 338.29 L615 338.3 L615.5 338.3 L616 338.3 L616.5 338.3 L617.01 338.3 L617.51 338.3 L618.01 338.3 L618.52 338.3 L619.02 338.3 L619.52 338.3 L620.03 338.3 L620.53 338.3 L621.03 338.3 L621.54 338.3 L622.04 338.3 L622.54 338.3 L623.05 338.3 L623.55 338.3 L624.05 338.3 L624.56 338.3 L625.06 338.3 L625.56 338.3 L626.07 338.3 L626.57 338.3 L627.07 338.3 L627.58 338.3 L628.08 338.3 L628.58 338.3 L629.09 338.3 L629.59 338.3 L630.09 338.3 L630.6 338.3 L631.1 338.3 L631.6 338.3 L632.1 338.3 L632.61 338.3 L633.11 338.3 L633.61 338.3 L634.12 338.3 L634.62 338.3 L635.12 338.3 L635.63 338.3 L636.13 338.3 L636.63 338.3 L637.14 338.3 L637.64 338.3 L638.14 338.3 L638.65 338.3 L639.15 338.3 L639.65 338.3 L640.16 338.3 L640.66 338.3 L641.16 338.3 L641.67 338.3 L642.17 338.3 L642.67 338.3 L643.18 338.3 L643.68 338.3 L644.18 338.3 L644.69 338.3 L645.19 338.3 L645.69 338.3 L646.2 338.3 L646.7 338.3 L647.2 338.3 L647.71 338.3 L648.21 338.3 L648.71 338.3 L649.22 338.3 L649.72 338.3 L650.22 338.3 L650.73 338.3 L651.23 338.3 L651.73 338.3 L652.24 338.3 L652.74 338.3 L653.24 338.3 L653.75 338.3 L654.25 338.3 L654.75 338.3 L655.26 338.3 L655.76 338.3 L656.26 338.3 L656.77 338.3 L657.27 338.3 L657.77 338.3 L658.28 338.3 L658.78 338.3 L659.28 338.3 L659.79 338.3 L660.29 338.3 L660.79 338.3 L661.3 338.3 L661.8 338.3 L662.3 338.3 L662.8 338.3 L663.31 338.3 L663.81 338.3 L664.31 338.3 L664.82 338.3 L665.32 338.3 L665.82 338.3 L666.33 338.3 L666.83 338.3 L667.33 338.3 L667.84 338.3 L668.34 338.3 L668.84 338.3 L669.35 338.3 L669.85 338.3 L670.35 338.3 L670.86 338.3 L671.36 338.3 L671.86 338.3 L672.37 338.3 L672.87 338.3 L673.37 338.3 L673.88 338.3 L674.38 338.3 L674.88 338.3 L675.39 338.3 L675.89 338.3 L676.39 338.3 L676.9 338.3 L677.4 338.3" fill="none" stroke="#000" stroke-width="2.1" stroke-dasharray="7 2.5" stroke-linejoin="round"/>
<path d="M410.2 442.5v-3.3M410.2 270.5v3.3M420.9 442.5v-1.8M420.9 270.5v1.8M431.6 442.5v-1.8M431.6 270.5v1.8M442.3 442.5v-1.8M442.3 270.5v1.8M453 442.5v-1.8M453 270.5v1.8M463.7 442.5v-3.3M463.7 270.5v3.3M474.4 442.5v-1.8M474.4 270.5v1.8M485.1 442.5v-1.8M485.1 270.5v1.8M495.8 442.5v-1.8M495.8 270.5v1.8M506.5 442.5v-1.8M506.5 270.5v1.8M517.2 442.5v-3.3M517.2 270.5v3.3M527.9 442.5v-1.8M527.9 270.5v1.8M538.6 442.5v-1.8M538.6 270.5v1.8M549.3 442.5v-1.8M549.3 270.5v1.8M560 442.5v-1.8M560 270.5v1.8M570.7 442.5v-3.3M570.7 270.5v3.3M581.4 442.5v-1.8M581.4 270.5v1.8M592.1 442.5v-1.8M592.1 270.5v1.8M602.8 442.5v-1.8M602.8 270.5v1.8M613.5 442.5v-1.8M613.5 270.5v1.8M624.2 442.5v-3.3M624.2 270.5v3.3M634.9 442.5v-1.8M634.9 270.5v1.8M645.6 442.5v-1.8M645.6 270.5v1.8M656.3 442.5v-1.8M656.3 270.5v1.8M667 442.5v-1.8M667 270.5v1.8M677.7 442.5v-3.3M677.7 270.5v3.3M404.9 437.62h1.8M683.5 437.62h-1.8M404.9 429.98h1.8M683.5 429.98h-1.8M404.9 422.34h1.8M683.5 422.34h-1.8M404.9 414.7h3.3M683.5 414.7h-3.3M404.9 407.06h1.8M683.5 407.06h-1.8M404.9 399.42h1.8M683.5 399.42h-1.8M404.9 391.78h1.8M683.5 391.78h-1.8M404.9 384.14h1.8M683.5 384.14h-1.8M404.9 376.5h3.3M683.5 376.5h-3.3M404.9 368.86h1.8M683.5 368.86h-1.8M404.9 361.22h1.8M683.5 361.22h-1.8M404.9 353.58h1.8M683.5 353.58h-1.8M404.9 345.94h1.8M683.5 345.94h-1.8M404.9 338.3h3.3M683.5 338.3h-3.3M404.9 330.66h1.8M683.5 330.66h-1.8M404.9 323.02h1.8M683.5 323.02h-1.8M404.9 315.38h1.8M683.5 315.38h-1.8M404.9 307.74h1.8M683.5 307.74h-1.8M404.9 300.1h3.3M683.5 300.1h-3.3M404.9 292.46h1.8M683.5 292.46h-1.8M404.9 284.82h1.8M683.5 284.82h-1.8M404.9 277.18h1.8M683.5 277.18h-1.8" stroke="#0c0c0c" stroke-width="0.85" fill="none"/>
<rect x="404.9" y="270.5" width="278.6" height="172" fill="none" stroke="#636363" stroke-width="0.9"/>
<text x="410.2" y="456.9" transform="rotate(0.05 410.2 456.9)" text-anchor="middle" class="tk">0</text>
<text x="463.7" y="456.9" transform="rotate(0.05 463.7 456.9)" text-anchor="middle" class="tk">1</text>
<text x="517.2" y="456.9" transform="rotate(0.05 517.2 456.9)" text-anchor="middle" class="tk">2</text>
<text x="570.7" y="456.9" transform="rotate(0.05 570.7 456.9)" text-anchor="middle" class="tk">3</text>
<text x="624.2" y="456.9" transform="rotate(0.05 624.2 456.9)" text-anchor="middle" class="tk">4</text>
<text x="677.7" y="456.9" transform="rotate(0.05 677.7 456.9)" text-anchor="middle" class="tk">5</text>
<text x="400.7" y="418.6" transform="rotate(0.05 400.7 418.6)" text-anchor="end" class="tk">−10</text>
<text x="400.7" y="380.4" transform="rotate(0.05 400.7 380.4)" text-anchor="end" class="tk">−5</text>
<text x="400.7" y="342.2" transform="rotate(0.05 400.7 342.2)" text-anchor="end" class="tk">0</text>
<text x="400.7" y="304" transform="rotate(0.05 400.7 304)" text-anchor="end" class="tk">5</text>
<line x1="539.4" y1="398.8" x2="585.6" y2="398.8" stroke="#0808de" stroke-width="1.9"/>
<line x1="539.4" y1="425.2" x2="585.6" y2="425.2" stroke="#000" stroke-width="2.05" stroke-dasharray="6.7 2.3 6.7 2.3 6.7 2.3 6.7 2.3 12 0"/>
<text x="593.5" y="404.1" transform="rotate(0.05 593.5 404.1)" class="lg">ROCWD</text>
<text x="593.5" y="429.8" transform="rotate(0.05 593.5 429.8)" class="lg">ROISMCWD</text>
<text x="544.3" y="478.4" transform="rotate(0.05 544.3 478.8)" text-anchor="middle" class="ax">time (sec)</text>
<text transform="translate(368.0 356.3) rotate(-90)" text-anchor="middle" class="ax ay" style="font-size:13.15px">dotq<tspan dy="3.4" font-size="10" font-weight="normal" stroke="#111" stroke-width="0.35">2</tspan><tspan dy="-3.4"> (rad/sec)</tspan></text>
<text x="345.3" y="248.1" transform="rotate(0.05 345.3 248.1)" text-anchor="middle" class="cap">(a)</text>
<text x="345.3" y="517.8" transform="rotate(0.05 345.3 517.8)" text-anchor="middle" class="cap">(b)</text>
</svg></body></html>
